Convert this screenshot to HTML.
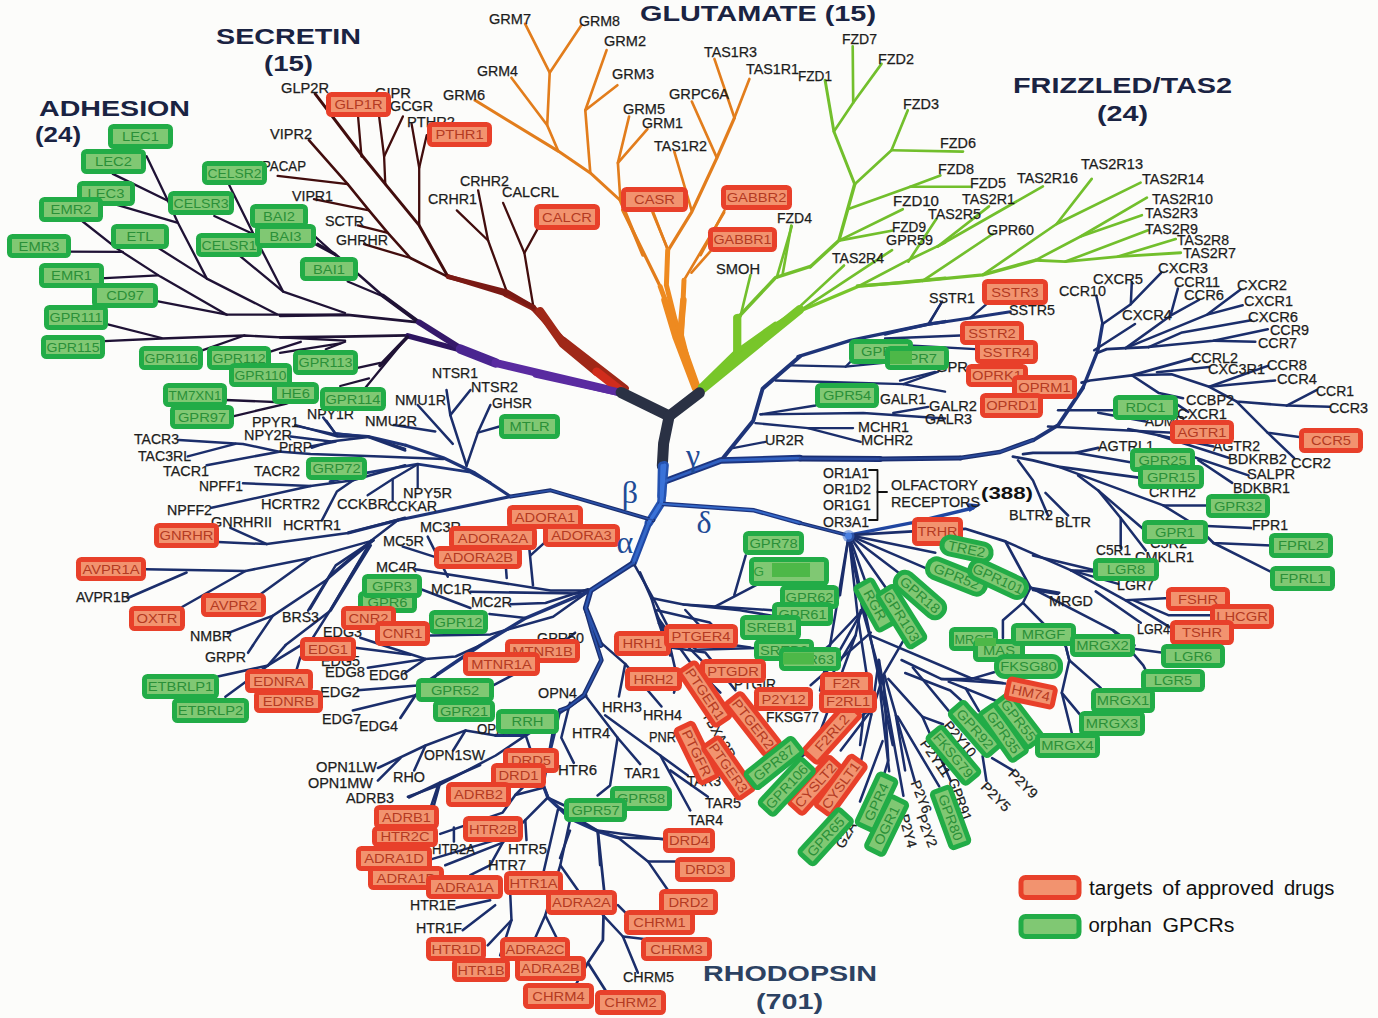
<!DOCTYPE html><html><head><meta charset="utf-8"><title>GPCR tree</title><style>html,body{margin:0;padding:0;background:#fcfcfa;}svg{display:block}text{font-family:"Liberation Sans",sans-serif;}</style></head><body>
<svg width="1378" height="1018" viewBox="0 0 1378 1018">
<rect width="1378" height="1018" fill="#fcfcfa"/>
<g fill="none" stroke-linecap="round" stroke-linejoin="round">
<polyline points="146.6,156.3 167.9,200.7 177.9,222.8 206.8,278.6 276.9,314.2" stroke="#1f1235" stroke-width="2.3"/>
<polyline points="112.8,173.9 167.9,200.7" stroke="#1f1235" stroke-width="2.3"/>
<polyline points="117.8,205.2 177.9,222.8" stroke="#1f1235" stroke-width="2.3"/>
<polyline points="82.7,221.5 117.8,249.1 160.4,276.6 226.8,314.7 345.1,314.7" stroke="#1f1235" stroke-width="2.3"/>
<polyline points="65.2,251.6 122.8,251.8" stroke="#1f1235" stroke-width="2.3"/>
<polyline points="100.3,278.4 157.9,275.4" stroke="#1f1235" stroke-width="2.3"/>
<polyline points="154.1,245.3 206.8,278.6" stroke="#1f1235" stroke-width="2.3"/>
<polyline points="150.4,299.9 226.8,314.7" stroke="#1f1235" stroke-width="2.3"/>
<polyline points="229.3,185.2 253.1,233.3 283.2,291.7 345.1,313" stroke="#1f1235" stroke-width="2.3"/>
<polyline points="214.3,216 253.1,234" stroke="#1f1235" stroke-width="2.3"/>
<polyline points="233.1,250.3 283.2,291.7" stroke="#1f1235" stroke-width="2.3"/>
<polyline points="295.7,219 335.8,255.3" stroke="#1f1235" stroke-width="2.3"/>
<polyline points="300.8,236.5 335.8,255.3" stroke="#1f1235" stroke-width="2.3"/>
<polyline points="107.8,324.3 161.7,338" stroke="#1f1235" stroke-width="2.3"/>
<polyline points="104,341.1 161.7,338.5 244.4,335.5 345.1,340.6" stroke="#1f1235" stroke-width="2.3"/>
<polyline points="198,351.8 244.4,335.5" stroke="#1f1235" stroke-width="2.3"/>
<polyline points="265.7,353.1 300.8,341.8" stroke="#1f1235" stroke-width="2.3"/>
<polyline points="325.8,349.3 345.1,341.8" stroke="#1f1235" stroke-width="2.3"/>
<polyline points="317.6,243.9 335.1,253.9 382.8,295.7 419.1,322.3" stroke="#1f1235" stroke-width="2.53"/>
<polyline points="347.7,281.5 382.8,296.2" stroke="#1f1235" stroke-width="2.3"/>
<polyline points="280,315.8 347.7,314.8 419.1,322.3" stroke="#1f1235" stroke-width="2.76"/>
<polyline points="280,337.3 342.7,336.6 407.8,335.3" stroke="#1f1235" stroke-width="2.76"/>
<polyline points="405.3,339.1 365.2,388" stroke="#1f1235" stroke-width="2.3"/>
<polyline points="340.2,343.4 280,352.9" stroke="#1f1235" stroke-width="2.3"/>
<polyline points="380.3,362.9 355.2,368.4" stroke="#1f1235" stroke-width="2.3"/>
<polyline points="369,378.4 340.2,386" stroke="#1f1235" stroke-width="2.3"/>
<polyline points="312.6,386.7 295,394.2" stroke="#1f1235" stroke-width="2.3"/>
<polyline points="407.8,335.8 460.5,349.9" stroke="#2e1560" stroke-width="5.5"/>
<polyline points="382.8,295.7 419.1,322.3" stroke="#1f1235" stroke-width="4"/>
<polyline points="407.4,337 380,365.5" stroke="#1f1235" stroke-width="3.6"/>
<polyline points="419.1,322.3 460.5,348.4" stroke="#35186a" stroke-width="6"/>
<polyline points="460.5,349.1 495.5,362.9" stroke="#4a2590" stroke-width="9.5"/>
<polyline points="495.5,362.9 625.1,393.5" stroke="#5a2ba0" stroke-width="8"/>
<polyline points="625.1,388.5 563.2,340.4" stroke="#a02818" stroke-width="7.5"/>
<polyline points="563.2,340.4 533.1,307.8" stroke="#962418" stroke-width="6"/>
<polyline points="533.1,307.8 505.6,294" stroke="#8a1f16" stroke-width="6"/>
<polyline points="505.6,294 447.9,276.4" stroke="#7a1a14" stroke-width="4.5"/>
<polyline points="326.4,420.6 335.1,433.1 367.7,436.8 405.3,450.6" stroke="#1b2e6b" stroke-width="2.3"/>
<polyline points="295,425.6 335.1,434.3" stroke="#1b2e6b" stroke-width="2.3"/>
<polyline points="311.7,447.8 330.5,441.5" stroke="#1b2e6b" stroke-width="2.3"/>
<polyline points="315.2,93.8 362.8,156.5 385.3,184.1 419.2,225.4 448,276.8" stroke="#420d0d" stroke-width="2.9899999999999998"/>
<polyline points="308.9,140.2 347.7,184.1 369,210.4 387.8,232.9 410.4,258 448,276.8" stroke="#420d0d" stroke-width="2.53"/>
<polyline points="364,244.2 410.4,258" stroke="#420d0d" stroke-width="2.3"/>
<polyline points="277.6,175.8 347.7,184.1" stroke="#420d0d" stroke-width="2.3"/>
<polyline points="313.9,199.1 369,210.4" stroke="#420d0d" stroke-width="2.3"/>
<polyline points="357.8,225.4 387.8,232.9" stroke="#420d0d" stroke-width="2.3"/>
<polyline points="357.3,107.6 361.5,156.5" stroke="#420d0d" stroke-width="2.3"/>
<polyline points="379.1,116.4 384.1,156.5 385.3,184.1" stroke="#420d0d" stroke-width="2.3"/>
<polyline points="402.9,116.4 384.1,156.5" stroke="#420d0d" stroke-width="2.3"/>
<polyline points="411.6,123.9 419.2,167.8 419.2,225.4" stroke="#420d0d" stroke-width="2.3"/>
<polyline points="426.7,135.2 419.2,167.8" stroke="#420d0d" stroke-width="2.3"/>
<polyline points="456.8,210.4 488.1,240.5" stroke="#420d0d" stroke-width="2.3"/>
<polyline points="478.1,190.3 488.1,240.5 506.9,291.8" stroke="#420d0d" stroke-width="2.3"/>
<polyline points="503.1,202.9 524.4,253 533.2,305.6" stroke="#420d0d" stroke-width="2.3"/>
<polyline points="538.2,227.9 524.4,253" stroke="#420d0d" stroke-width="2.3"/>
<polyline points="448,276.8 506.9,291.8 533.2,306.9" stroke="#7a1a14" stroke-width="4.5"/>
<polyline points="525.1,23.8 549.7,72.7 547.2,125.3" stroke="#e27d1c" stroke-width="2.6449999999999996"/>
<polyline points="581.5,25.1 549.7,72.7" stroke="#e27d1c" stroke-width="2.6449999999999996"/>
<polyline points="511.4,77.7 547.2,125.3 558.2,151.1" stroke="#e27d1c" stroke-width="2.6449999999999996"/>
<polyline points="475,100.3 558.2,151.1 590.3,172.9 620.4,200.5" stroke="#e27d1c" stroke-width="2.9899999999999998"/>
<polyline points="606.6,50.1 585.3,110.3 590.3,172.9" stroke="#e27d1c" stroke-width="2.6449999999999996"/>
<polyline points="617.4,85.2 585.3,110.3" stroke="#e27d1c" stroke-width="2.6449999999999996"/>
<polyline points="629.1,116.5 617.9,162.9 620.4,200.5" stroke="#e27d1c" stroke-width="2.6449999999999996"/>
<polyline points="647.4,129.1 617.9,162.9" stroke="#e27d1c" stroke-width="2.6449999999999996"/>
<polyline points="674.3,151.6 691.8,211" stroke="#e27d1c" stroke-width="2.6449999999999996"/>
<polyline points="714.4,58.9 734.4,117.8" stroke="#e27d1c" stroke-width="2.6449999999999996"/>
<polyline points="749.4,78.9 734.4,117.8" stroke="#e27d1c" stroke-width="2.6449999999999996"/>
<polyline points="734.4,117.8 716.9,157.9 691.8,211.8 668,250.6" stroke="#e27d1c" stroke-width="3.2199999999999998"/>
<polyline points="691.8,101.5 716.9,157.9" stroke="#e27d1c" stroke-width="2.6449999999999996"/>
<polyline points="653,211.8 668,250.6" stroke="#e27d1c" stroke-width="2.6449999999999996"/>
<polyline points="620.4,200.5 642.9,255.1" stroke="#e27d1c" stroke-width="3.4"/>
<polyline points="724.4,210.5 700.6,255.1" stroke="#e27d1c" stroke-width="2.6449999999999996"/>
<polyline points="622.6,210 660.2,286.5" stroke="#e27d1c" stroke-width="3.2"/>
<polyline points="660.2,286.5 682.7,347.9" stroke="#ee8a20" stroke-width="5"/>
<polyline points="652.6,212.5 667.7,248.9" stroke="#e27d1c" stroke-width="2.6449999999999996"/>
<polyline points="667.7,250.1 666.4,285.2 675.2,320.3 684,350.4" stroke="#ee8a20" stroke-width="5"/>
<polyline points="724.1,212.5 684,280.2" stroke="#e27d1c" stroke-width="2.6449999999999996"/>
<polyline points="710.3,251.4 691.5,272.7" stroke="#e27d1c" stroke-width="2.6449999999999996"/>
<polyline points="684,280.2 681.5,335.3 688.2,361.7" stroke="#ee8a20" stroke-width="5"/>
<polyline points="684,350.4 697.2,387.5" stroke="#ee8a20" stroke-width="7"/>
<polyline points="701.5,388.5 740.4,350.4" stroke="#78c62a" stroke-width="9"/>
<polyline points="740.4,350.4 775.4,325.3" stroke="#78c62a" stroke-width="7"/>
<polyline points="775.4,325.3 793,314" stroke="#78c62a" stroke-width="4.8"/>
<polyline points="793,314 858.1,286.5 945.1,278.2" stroke="#78c62a" stroke-width="3.2"/>
<polyline points="736.6,317.8 736.6,353.4" stroke="#78c62a" stroke-width="7"/>
<polyline points="750.4,275.2 740.4,316.5" stroke="#72bf2c" stroke-width="2.6449999999999996"/>
<polyline points="737.8,317.8 775.4,277.7 810.5,266.4" stroke="#72bf2c" stroke-width="3.4499999999999997"/>
<polyline points="791.7,226.3 776.7,277.7" stroke="#72bf2c" stroke-width="2.6449999999999996"/>
<polyline points="892,250.1 800.5,310.3" stroke="#72bf2c" stroke-width="2.6449999999999996"/>
<polyline points="844,265.5 793.2,312.6" stroke="#72bf2c" stroke-width="2.6449999999999996"/>
<polyline points="858.1,286.5 908.3,260.2 945.1,242.6" stroke="#72bf2c" stroke-width="2.6449999999999996"/>
<polyline points="798,356.6 850.6,340.4 928.3,324.1 945.1,321.6" stroke="#1e3478" stroke-width="3.4499999999999997"/>
<polyline points="942.1,301.5 928.3,324.1" stroke="#1b2e6b" stroke-width="2.3"/>
<polyline points="790.5,365.4 845.6,366.7 883.2,362.9" stroke="#1b2e6b" stroke-width="2.3"/>
<polyline points="845.6,366.7 855.6,356.6" stroke="#1b2e6b" stroke-width="2.3"/>
<polyline points="775.4,380.5 903.3,384.2 945.1,391.7" stroke="#1b2e6b" stroke-width="2.3"/>
<polyline points="903.3,384.2 938.3,371.7" stroke="#1b2e6b" stroke-width="2.3"/>
<polyline points="760.4,414.3 815.5,405.5 823.1,400.5" stroke="#1b2e6b" stroke-width="2.3"/>
<polyline points="760.4,414.3 863.2,413 945.1,418.5" stroke="#1b2e6b" stroke-width="2.3"/>
<polyline points="893.2,413 928.3,406.8" stroke="#1b2e6b" stroke-width="2.3"/>
<polyline points="755.4,423.1 808,428.1 853.1,428.1" stroke="#1b2e6b" stroke-width="2.3"/>
<polyline points="808,428.1 860.7,441.9" stroke="#1b2e6b" stroke-width="2.3"/>
<polyline points="732.8,448.1 765.4,441.9" stroke="#1b2e6b" stroke-width="2.3"/>
<polyline points="810.1,266.9 838.9,240.6 847.7,209.2 854.7,184.2" stroke="#72bf2c" stroke-width="3.4499999999999997"/>
<polyline points="854.7,184.2 833.9,131.5 825.1,80.2" stroke="#72bf2c" stroke-width="2.9899999999999998"/>
<polyline points="852.7,46.3 853.2,102.7 833.9,131.5" stroke="#72bf2c" stroke-width="2.6449999999999996"/>
<polyline points="881.5,63.9 853.2,102.7" stroke="#72bf2c" stroke-width="2.6449999999999996"/>
<polyline points="854.7,184.2 891.5,150.3 907.8,110.2" stroke="#72bf2c" stroke-width="2.6449999999999996"/>
<polyline points="891.5,150.3 963,151.6" stroke="#72bf2c" stroke-width="2.6449999999999996"/>
<polyline points="847.7,209.2 910.3,186.7 940.4,175.4" stroke="#72bf2c" stroke-width="2.6449999999999996"/>
<polyline points="910.3,186.7 970.5,186.7" stroke="#72bf2c" stroke-width="2.6449999999999996"/>
<polyline points="838.9,240.6 902.8,209.2" stroke="#72bf2c" stroke-width="2.6449999999999996"/>
<polyline points="838.9,240.6 892.8,230.5" stroke="#72bf2c" stroke-width="2.6449999999999996"/>
<polyline points="791.3,225.5 782.5,275.1" stroke="#72bf2c" stroke-width="2.6449999999999996"/>
<polyline points="857.4,285.9 900,282.9 982.7,274.9 1035.3,260.3" stroke="#72bf2c" stroke-width="3.4499999999999997"/>
<polyline points="1035.3,260.3 1065.4,261.6 1118,256.6 1180.7,252.8" stroke="#72bf2c" stroke-width="2.875"/>
<polyline points="982.7,274.9 1056.6,224 1091.7,178.9" stroke="#72bf2c" stroke-width="2.6449999999999996"/>
<polyline points="1056.6,224 1140.6,182.6" stroke="#72bf2c" stroke-width="2.6449999999999996"/>
<polyline points="1035.3,260.3 1080.5,236.5 1146.9,197.7" stroke="#72bf2c" stroke-width="2.6449999999999996"/>
<polyline points="1080.5,236.5 1141.9,215.2" stroke="#72bf2c" stroke-width="2.6449999999999996"/>
<polyline points="1065.4,261.6 1148.1,230.3" stroke="#72bf2c" stroke-width="2.6449999999999996"/>
<polyline points="1118,256.6 1175.7,239" stroke="#72bf2c" stroke-width="2.6449999999999996"/>
<polyline points="992.7,234 922.6,280.9" stroke="#72bf2c" stroke-width="2.6449999999999996"/>
<polyline points="1042.9,186.4 937.6,246.5" stroke="#72bf2c" stroke-width="2.6449999999999996"/>
<polyline points="989,206.4 937.6,246.5" stroke="#72bf2c" stroke-width="2.6449999999999996"/>
<polyline points="936.3,219 908.3,261.7" stroke="#72bf2c" stroke-width="2.6449999999999996"/>
<polyline points="941.4,302.9 928.8,324.2" stroke="#1b2e6b" stroke-width="2.3"/>
<polyline points="885,334.3 900,330.5 928.8,324.2 970.2,318 1010.3,311.7" stroke="#1e3478" stroke-width="2.9899999999999998"/>
<polyline points="986.5,304.2 970.2,318" stroke="#1b2e6b" stroke-width="2.3"/>
<polyline points="885,338.5 960.2,335.5" stroke="#1b2e6b" stroke-width="2.3"/>
<polyline points="900,345 980.2,349.3" stroke="#1b2e6b" stroke-width="2.3"/>
<polyline points="900,380.6 935.1,371.9" stroke="#1b2e6b" stroke-width="2.3"/>
<polyline points="540,311.3 562.6,343.4 596.6,371.7" stroke="#a02818" stroke-width="8.5"/>
<polyline points="596.6,371.7 620.2,390.2" stroke="#d02c1c" stroke-width="8.5"/>
<polyline points="536.2,374 620.2,392.5" stroke="#5a2ba0" stroke-width="7.5"/>
<polyline points="664.5,300 675.8,337.7 695.1,388.3" stroke="#ee8a20" stroke-width="6.5"/>
<polyline points="683.4,300 680,337.7" stroke="#ee8a20" stroke-width="6.5"/>
<polyline points="799.8,309.4 702.6,388.7" stroke="#78c62a" stroke-width="9"/>
<polyline points="738.1,317 738.1,349.4" stroke="#78c62a" stroke-width="6.5"/>
<polyline points="621.1,392.5 669.2,416" stroke="#2a3144" stroke-width="11"/>
<polyline points="699.4,392.8 669.2,416" stroke="#2a3144" stroke-width="11"/>
<polyline points="669.2,416 663.6,443.4 662.3,465.7" stroke="#2a3144" stroke-width="11"/>
<polyline points="662.3,466 661.7,496.2" stroke="#2452b0" stroke-width="9"/>
<polyline points="664.5,481.5 721.1,460.4 799.8,458.1" stroke="#1c3580" stroke-width="6.5"/>
<polyline points="721.1,460.4 753.2,420.8 762.6,388.7 799.8,356.6" stroke="#1e3478" stroke-width="4"/>
<polyline points="664.6,465.2 661.3,502.8 648.8,522.8" stroke="#2452b0" stroke-width="8.5"/>
<polyline points="648.8,522.8 633.3,562.9" stroke="#2049a5" stroke-width="7"/>
<polyline points="633.3,562.9 590.7,590.5 585.6,608 600.7,645.1" stroke="#1b3278" stroke-width="5.5"/>
<polyline points="653.3,520.3 550.6,490.3 510.5,496.5" stroke="#1b2f6e" stroke-width="4"/>
<polyline points="510.5,496.5 397.7,520.3" stroke="#1e3478" stroke-width="3.2"/>
<polyline points="397.7,520.3 348.2,532.9" stroke="#1e3478" stroke-width="3.2199999999999998"/>
<polyline points="510.5,496.5 475,473 443.3,457.8 405.7,445.3" stroke="#1e3478" stroke-width="3.2"/>
<polyline points="405.7,445.3 368,436.5 335.5,434" stroke="#1e3478" stroke-width="2.9899999999999998"/>
<polyline points="490.4,482.7 470.4,472.2 417.7,464.2 367.6,472.7 330,481.5" stroke="#1e3478" stroke-width="2.76"/>
<polyline points="417.7,464.2 417.7,487.7" stroke="#1b2e6b" stroke-width="2.3"/>
<polyline points="417.7,464.2 392.7,479 367.6,495.3" stroke="#1b2e6b" stroke-width="2.3"/>
<polyline points="392.7,479 392.7,500.3" stroke="#1b2e6b" stroke-width="2.3"/>
<polyline points="466.6,465.7 477.9,432.6 490.4,405" stroke="#1b2e6b" stroke-width="2.53"/>
<polyline points="477.9,432.6 500.4,426.3" stroke="#1b2e6b" stroke-width="2.53"/>
<polyline points="466.6,465.7 450.3,415.1 446.5,390" stroke="#1b2e6b" stroke-width="2.53"/>
<polyline points="450.3,415.1 470.4,390" stroke="#1b2e6b" stroke-width="2.53"/>
<polyline points="417.7,405 452.8,443.9" stroke="#1b2e6b" stroke-width="2.53"/>
<polyline points="393.9,425.1 435.3,431.4" stroke="#1b2e6b" stroke-width="2.53"/>
<polyline points="397.7,520.3 371.4,540.4 330,575.5" stroke="#1b2e6b" stroke-width="2.53"/>
<polyline points="371.4,540.4 330,610.6" stroke="#1b2e6b" stroke-width="2.53"/>
<polyline points="633.3,562.9 655.8,603 675.1,640.6" stroke="#1b2e6b" stroke-width="2.53"/>
<polyline points="590.7,590.5 550.6,590.5 415.2,569.2" stroke="#1b2e6b" stroke-width="2.53"/>
<polyline points="580.6,593.5 470.4,591.8" stroke="#1b2e6b" stroke-width="2.53"/>
<polyline points="588.1,589.2 545.5,603 510.5,604.3" stroke="#1b2e6b" stroke-width="2.53"/>
<polyline points="588.1,591.8 553.1,616.8 490.4,634.4 430.3,635.6" stroke="#1b2e6b" stroke-width="2.53"/>
<polyline points="528,535.4 533,585.5" stroke="#1b2e6b" stroke-width="2.53"/>
<polyline points="505.4,560.4 506.7,578" stroke="#1b2e6b" stroke-width="2.53"/>
<polyline points="544.3,542.9 530.5,555.4" stroke="#1b2e6b" stroke-width="2.53"/>
<polyline points="427.7,536.6 447.8,576.7" stroke="#1b2e6b" stroke-width="2.53"/>
<polyline points="402.7,546.6 437.8,557.9" stroke="#1b2e6b" stroke-width="2.53"/>
<polyline points="417.7,588 470.4,608" stroke="#1b2e6b" stroke-width="2.53"/>
<polyline points="179,440.1 243,443.9 278,451.4 310.6,453.9 380.6,456.6 443.3,459" stroke="#1b2e6b" stroke-width="2.53"/>
<polyline points="187.8,456.4 235.4,443.9" stroke="#1b2e6b" stroke-width="2.53"/>
<polyline points="206.6,465.2 280.6,451.4" stroke="#1b2e6b" stroke-width="2.53"/>
<polyline points="295.6,425.1 336.9,436.4 368.3,436.4 405.1,448.9" stroke="#1b2e6b" stroke-width="2.53"/>
<polyline points="290.6,436.4 330.7,441.4 368.3,437.1" stroke="#1b2e6b" stroke-width="2.53"/>
<polyline points="323.2,417.6 336.9,435.6" stroke="#1b2e6b" stroke-width="2.53"/>
<polyline points="310.6,446.4 335.7,441.4" stroke="#1b2e6b" stroke-width="2.53"/>
<polyline points="211.6,507.8 310.6,486 353.2,480.2 405.1,465.2" stroke="#1b2e6b" stroke-width="2.53"/>
<polyline points="243,483.2 310.6,486" stroke="#1b2e6b" stroke-width="2.53"/>
<polyline points="321.9,520.3 336.9,491.5 353.2,480.2" stroke="#1b2e6b" stroke-width="2.53"/>
<polyline points="217.9,542.1 266.8,544.1 348.2,532.9 405.1,517.8" stroke="#1b2e6b" stroke-width="2.53"/>
<polyline points="230.4,527.8 266.8,544.1" stroke="#1b2e6b" stroke-width="2.53"/>
<polyline points="145.2,569.2 245.5,571 310.6,557.9 373.3,540.4" stroke="#1b2e6b" stroke-width="2.53"/>
<polyline points="127.7,598 186.6,572.5" stroke="#1b2e6b" stroke-width="2.53"/>
<polyline points="180.3,608 245.5,571" stroke="#1b2e6b" stroke-width="2.53"/>
<polyline points="260.5,594.3 310.6,557.9" stroke="#1b2e6b" stroke-width="2.53"/>
<polyline points="308.1,610.6 335.7,565.4 373.3,540.4" stroke="#1b2e6b" stroke-width="2.53"/>
<polyline points="227.9,633.1 273,615.6 325.7,580.5 373.3,540.4" stroke="#1b2e6b" stroke-width="2.53"/>
<polyline points="253,645.1 273,615.6" stroke="#1b2e6b" stroke-width="2.53"/>
<polyline points="285.6,645.1 330.7,610.6 370.8,545.4" stroke="#1b2e6b" stroke-width="2.53"/>
<polyline points="225.4,400 285.6,402.5" stroke="#1f1235" stroke-width="2.3"/>
<polyline points="232.9,416.3 285.6,403.8 310.6,395" stroke="#1f1235" stroke-width="2.3"/>
<polyline points="590.7,590.6 525.7,618.1 480.6,645.2 438,674" stroke="#1e3478" stroke-width="3.4499999999999997"/>
<polyline points="438,674 415.5,695.3 400.4,717.9" stroke="#1b2e6b" stroke-width="2.76"/>
<polyline points="525.7,618.1 489.4,613.9" stroke="#1b2e6b" stroke-width="2.53"/>
<polyline points="480.6,645.2 455.6,656.5 425.5,659 390.4,647.7 360.3,637.7" stroke="#1b2e6b" stroke-width="2.53"/>
<polyline points="425.5,659 367.8,667.8" stroke="#1b2e6b" stroke-width="2.53"/>
<polyline points="425.5,659 405.4,672.8" stroke="#1b2e6b" stroke-width="2.53"/>
<polyline points="410.5,654.7 355.3,647.7" stroke="#1b2e6b" stroke-width="2.53"/>
<polyline points="438,674 420.5,685.3 357.8,690.3" stroke="#1b2e6b" stroke-width="2.53"/>
<polyline points="415.5,695.3 352.8,710.4" stroke="#1b2e6b" stroke-width="2.53"/>
<polyline points="360.3,560 330.3,610.1 300.2,657.7 296.4,670.3" stroke="#1b2e6b" stroke-width="2.53"/>
<polyline points="310.2,608.9 330.3,575" stroke="#1b2e6b" stroke-width="2.53"/>
<polyline points="217.9,676.6 268,665.4 300.6,645.3" stroke="#1b2e6b" stroke-width="2.53"/>
<polyline points="268,665.4 225.4,696.7" stroke="#1b2e6b" stroke-width="2.53"/>
<polyline points="285.6,645.1 268,665.4" stroke="#1b2e6b" stroke-width="2.53"/>
<polyline points="253,645.3 248,652.8" stroke="#1b2e6b" stroke-width="2.53"/>
<polyline points="585.9,695.3 555.8,715.4 525.7,735.4 495.7,735.4" stroke="#1e3478" stroke-width="3.2199999999999998"/>
<polyline points="495.7,735.4 465.6,730.4 425.5,745.5 377.9,768" stroke="#1b2e6b" stroke-width="2.53"/>
<polyline points="425.5,745.5 414.2,770.5" stroke="#1b2e6b" stroke-width="2.53"/>
<polyline points="465.6,730.4 453.1,750.5" stroke="#1b2e6b" stroke-width="2.53"/>
<polyline points="400.4,758 377.9,780.6" stroke="#1b2e6b" stroke-width="2.53"/>
<polyline points="525.7,735.4 495.7,755.5 438,785.6 407.9,796.8" stroke="#1b2e6b" stroke-width="2.53"/>
<polyline points="438,785.6 428,815.1" stroke="#1b2e6b" stroke-width="2.53"/>
<polyline points="525.7,735.4 530.8,750.5" stroke="#1b2e6b" stroke-width="2.53"/>
<polyline points="555.8,715.4 543.3,785.6 548.3,798.1 575.1,810.6" stroke="#1b2e6b" stroke-width="2.76"/>
<polyline points="575.1,632.7 540.8,660.3 493.2,685.3" stroke="#1b2e6b" stroke-width="2.53"/>
<polyline points="540.3,775 544.1,787.5 547.8,797.5 570.3,818.8 597.9,831.3 617.9,837.6" stroke="#1e3478" stroke-width="3.4499999999999997"/>
<polyline points="617.9,837.6 665.5,838.9" stroke="#1b2e6b" stroke-width="2.53"/>
<polyline points="597.9,831.3 604.1,890.2 602.9,940.3 587.9,962.8 605.4,990.3" stroke="#1b2e6b" stroke-width="2.76"/>
<polyline points="587.9,962.8 575.4,985.3" stroke="#1b2e6b" stroke-width="2.53"/>
<polyline points="602.9,915.2 622.9,936.5 637.9,972.8" stroke="#1b2e6b" stroke-width="2.53"/>
<polyline points="622.9,936.5 644.2,939" stroke="#1b2e6b" stroke-width="2.53"/>
<polyline points="617.9,837.6 648,861.4 678,861.4" stroke="#1b2e6b" stroke-width="2.53"/>
<polyline points="648,861.4 668,890.2" stroke="#1b2e6b" stroke-width="2.53"/>
<polyline points="617.9,905.2 630.4,917.7" stroke="#1b2e6b" stroke-width="2.53"/>
<polyline points="570.3,818.8 560.3,865.2 577.9,890.2" stroke="#1b2e6b" stroke-width="2.53"/>
<polyline points="560.3,865.2 545.3,915.2 535.3,937.8" stroke="#1b2e6b" stroke-width="2.53"/>
<polyline points="545.3,915.2 557.8,940.3" stroke="#1b2e6b" stroke-width="2.53"/>
<polyline points="557.8,810.1 542.8,875.2" stroke="#1b2e6b" stroke-width="2.53"/>
<polyline points="547.8,797.5 525.3,820.1 502.7,842.6 490.2,865.2 470.2,875.2" stroke="#1b2e6b" stroke-width="2.53"/>
<polyline points="502.7,842.6 445.2,865.2" stroke="#1b2e6b" stroke-width="2.53"/>
<polyline points="495.2,840.1 432.6,858.9" stroke="#1b2e6b" stroke-width="2.53"/>
<polyline points="525.3,820.1 526.5,840.1" stroke="#1b2e6b" stroke-width="2.53"/>
<polyline points="510.3,895.2 511.5,920.2 487.7,945.3" stroke="#1b2e6b" stroke-width="2.53"/>
<polyline points="511.5,920.2 500.2,955.3" stroke="#1b2e6b" stroke-width="2.53"/>
<polyline points="490.2,900.2 456.4,907.7" stroke="#1b2e6b" stroke-width="2.53"/>
<polyline points="495.2,905.2 462.7,930.2" stroke="#1b2e6b" stroke-width="2.53"/>
<polyline points="544.1,787.5 515.3,795 502.7,812.6 440.2,833.9" stroke="#1b2e6b" stroke-width="2.53"/>
<polyline points="515.3,795 535.3,775" stroke="#1b2e6b" stroke-width="2.53"/>
<polyline points="440.2,782.5 432.6,810.1" stroke="#1b2e6b" stroke-width="2.53"/>
<polyline points="408.9,797.5 440.2,782.5 480.2,765" stroke="#1b2e6b" stroke-width="2.53"/>
<polyline points="453.9,827.6 453.9,841.4" stroke="#1b2e6b" stroke-width="2.53"/>
<polyline points="585.6,608 592.6,632.6 601.4,660.1 583.8,695.2 567.5,707.7 560,710.3" stroke="#1b2f6e" stroke-width="4.6"/>
<polyline points="560,710 548,760 540.3,775" stroke="#1e3478" stroke-width="3.2"/>
<polyline points="595.1,637.6 625.2,663.9 661.5,706.5" stroke="#1b2e6b" stroke-width="2.53"/>
<polyline points="625.2,663.9 618.9,696.5" stroke="#1b2e6b" stroke-width="2.53"/>
<polyline points="585.1,695.2 617.6,737.8 640.2,764.1" stroke="#1b2e6b" stroke-width="2.53"/>
<polyline points="570,702.7 561.3,737.8 573.8,762.9" stroke="#1b2e6b" stroke-width="2.53"/>
<polyline points="605.1,715.3 660.3,755.4 690.3,810.5" stroke="#1b2e6b" stroke-width="2.53"/>
<polyline points="660.3,755.4 687.8,775.4" stroke="#1b2e6b" stroke-width="2.53"/>
<polyline points="670.3,770.4 707.9,796.7" stroke="#1b2e6b" stroke-width="2.53"/>
<polyline points="617.6,737.8 610.1,785.4 597.6,795.5" stroke="#1b2e6b" stroke-width="2.53"/>
<polyline points="655.2,610 670.3,647.6 677.8,680.2 674,692.7" stroke="#1b2e6b" stroke-width="2.53"/>
<polyline points="657.7,617.5 690.3,662.6 720.4,692.7" stroke="#1b2e6b" stroke-width="2.53"/>
<polyline points="670.3,647.6 705.4,652.6 735.4,690.2" stroke="#1b2e6b" stroke-width="2.53"/>
<polyline points="685.3,610 715.4,642.6 750.5,647.6" stroke="#1b2e6b" stroke-width="2.53"/>
<polyline points="860.8,610 855.7,635.1 833.2,672.7" stroke="#1b2e6b" stroke-width="2.53"/>
<polyline points="870.8,632.6 810.6,685.2" stroke="#1b2e6b" stroke-width="2.53"/>
<polyline points="905.1,637.6 883.3,675.2 873.3,707.7 840.7,750.4" stroke="#1b2e6b" stroke-width="2.53"/>
<polyline points="883.3,675.2 888.3,760.4 880.8,785.4" stroke="#1b2e6b" stroke-width="2.53"/>
<polyline points="895.8,715.3 905.1,770.4" stroke="#1b2e6b" stroke-width="2.53"/>
<polyline points="873.3,707.7 810.6,750.4 795.6,760.4" stroke="#1b2e6b" stroke-width="2.53"/>
<polyline points="855.7,635.1 820.7,730.3" stroke="#1b2e6b" stroke-width="2.53"/>
<polyline points="560,808 597.6,830.6 662.8,839.3" stroke="#1b2e6b" stroke-width="2.53"/>
<polyline points="570,830.6 560,858.1" stroke="#1b2e6b" stroke-width="2.53"/>
<polyline points="597.6,830.6 600.1,865.1" stroke="#1b2e6b" stroke-width="2.53"/>
<polyline points="660.4,503.7 754,510.3 800,523" stroke="#1d3580" stroke-width="4.5"/>
<polyline points="800,523 848.8,535.5" stroke="#1b2f6e" stroke-width="3.8"/>
<polyline points="848.8,535.1 912.7,522.6 972.9,508" stroke="#2046a0" stroke-width="3.4499999999999997"/>
<polyline points="848.8,535.1 830,645.4" stroke="#1b2e6b" stroke-width="2.53"/>
<polyline points="848.8,535.1 870.1,635.4" stroke="#1b2e6b" stroke-width="2.53"/>
<polyline points="848.8,535.1 867.6,587.7" stroke="#1b2e6b" stroke-width="2.53"/>
<polyline points="848.8,535.1 887.6,590.3" stroke="#1b2e6b" stroke-width="2.53"/>
<polyline points="848.8,535.1 905.2,577.7" stroke="#1b2e6b" stroke-width="2.53"/>
<polyline points="848.8,535.1 930.3,570.2" stroke="#1b2e6b" stroke-width="2.53"/>
<polyline points="848.8,535.1 935.3,552.7" stroke="#1b2e6b" stroke-width="2.53"/>
<polyline points="848.8,535.1 840,595.3" stroke="#1b2e6b" stroke-width="2.53"/>
<polyline points="848.8,535.1 857.6,615.3" stroke="#1b2e6b" stroke-width="2.53"/>
<polyline points="870.1,635.4 892.7,745.1" stroke="#1b2e6b" stroke-width="2.53"/>
<polyline points="870.1,635.4 970.4,678 1002.9,683" stroke="#1b2e6b" stroke-width="2.53"/>
<polyline points="905.2,673 950.3,690.5 1005.4,740.6" stroke="#1b2e6b" stroke-width="2.53"/>
<polyline points="830,645.4 820,690.5" stroke="#1b2e6b" stroke-width="2.53"/>
<polyline points="857.6,615.3 867.6,680.5 860.1,745.1" stroke="#1b2e6b" stroke-width="2.53"/>
<polyline points="848.8,535.1 912.7,531.4 965.3,528.8 1005.4,541.4 1030.5,587.7" stroke="#1b2e6b" stroke-width="2.76"/>
<polyline points="1030.5,587.7 1113.2,630.4 1143.3,665.4 1150.8,680.5" stroke="#1b2e6b" stroke-width="2.53"/>
<polyline points="1005.4,541.4 1070.6,570.2 1094.4,571.5" stroke="#1b2e6b" stroke-width="2.53"/>
<polyline points="1070.6,570.2 1125.7,600.3 1175.1,597.8" stroke="#1b2e6b" stroke-width="2.53"/>
<polyline points="1125.7,600.3 1175.1,630.4" stroke="#1b2e6b" stroke-width="2.53"/>
<polyline points="1030.5,587.7 1059.3,592.8" stroke="#1b2e6b" stroke-width="2.53"/>
<polyline points="1030.5,587.7 1023,602.8 1002.9,620.3 1002.9,637.9" stroke="#1b2e6b" stroke-width="2.53"/>
<polyline points="1023,602.8 1065.6,646 1069.3,660.3" stroke="#1b2e6b" stroke-width="2.53"/>
<polyline points="1113.2,630.4 1134.5,645.4" stroke="#1b2e6b" stroke-width="2.53"/>
<polyline points="869,470 877.5,470 877.5,520 869,520" stroke="#111" stroke-width="1.8399999999999999"/>
<polyline points="877.5,492 887,492" stroke="#111" stroke-width="1.8399999999999999"/>
<polyline points="800,458.5 880,459" stroke="#1a2e72" stroke-width="6"/>
<polyline points="880,459 960,458" stroke="#1a2e72" stroke-width="5.2"/>
<polyline points="960,458 1000,452 1033,440" stroke="#1b2f6e" stroke-width="4.5"/>
<polyline points="1033,440.3 1058.1,425.2 1083.1,387.6" stroke="#1e3478" stroke-width="3.8"/>
<polyline points="1058.1,410.2 1118.2,410.2" stroke="#1b2e6b" stroke-width="2.53"/>
<polyline points="1098.2,412.7 1145.8,421.5" stroke="#1b2e6b" stroke-width="2.53"/>
<polyline points="1048,426.5 1173.4,432.8" stroke="#1b2e6b" stroke-width="2.53"/>
<polyline points="1128.2,429 1213.5,446.5" stroke="#1b2e6b" stroke-width="2.53"/>
<polyline points="1158.3,435.3 1228.5,457.8" stroke="#1b2e6b" stroke-width="2.53"/>
<polyline points="1023,454.1 1033,452.8 1075.6,452.8 1098.2,447.8" stroke="#1b2e6b" stroke-width="2.76"/>
<polyline points="1075.6,452.8 1133.3,462.8" stroke="#1b2e6b" stroke-width="2.53"/>
<polyline points="1012.9,456.6 1033,460.3 1058.1,466.6 1140.8,477.9" stroke="#1b2e6b" stroke-width="2.76"/>
<polyline points="1188.4,455.3 1248.5,475.4" stroke="#1b2e6b" stroke-width="2.53"/>
<polyline points="1198.4,460.3 1232.2,482.9" stroke="#1b2e6b" stroke-width="2.53"/>
<polyline points="1058.1,466.6 1163.3,505.4 1208.4,505.4" stroke="#1b2e6b" stroke-width="2.53"/>
<polyline points="1163.3,505.4 1195.9,525.5 1251,528" stroke="#1b2e6b" stroke-width="2.53"/>
<polyline points="1195.9,525.5 1213.5,543 1271.1,545.5" stroke="#1b2e6b" stroke-width="2.53"/>
<polyline points="1213.5,543 1273.6,573.1" stroke="#1b2e6b" stroke-width="2.53"/>
<polyline points="1098.2,490.4 1120.7,518 1145.8,550.6" stroke="#1b2e6b" stroke-width="2.53"/>
<polyline points="1120.7,518 1120.7,548" stroke="#1b2e6b" stroke-width="2.53"/>
<polyline points="1078.1,475.4 1098.2,490.4 1150.8,535.5" stroke="#1b2e6b" stroke-width="2.53"/>
<polyline points="1018,460.3 1033,480.4 1048,515.5" stroke="#1b2e6b" stroke-width="2.53"/>
<polyline points="1045.5,492.9 1068.1,515.5" stroke="#1b2e6b" stroke-width="2.53"/>
<polyline points="1033,555.6 1095.7,570.6" stroke="#1b2e6b" stroke-width="2.53"/>
<polyline points="1083,387.6 1098,350 1102.5,324" stroke="#1e3478" stroke-width="3.4"/>
<polyline points="1102.6,324 1096.3,295.8" stroke="#1b2e6b" stroke-width="2.53"/>
<polyline points="1102.6,324 1130.8,304.2 1131.8,282.2" stroke="#1b2e6b" stroke-width="2.53"/>
<polyline points="1130.8,304.2 1161.1,272.8" stroke="#1b2e6b" stroke-width="2.53"/>
<polyline points="1094.2,350.2 1135,324" stroke="#1b2e6b" stroke-width="2.53"/>
<polyline points="1096.3,353.3 1106.7,349.1 1125.6,348.1 1148.6,347.1" stroke="#1b2e6b" stroke-width="2.76"/>
<polyline points="1125.6,348.1 1170.5,315.7 1177.9,288.5" stroke="#1b2e6b" stroke-width="2.53"/>
<polyline points="1170.5,315.7 1198.8,300" stroke="#1b2e6b" stroke-width="2.53"/>
<polyline points="1125.6,348.1 1207.2,314.6 1240.6,289.5" stroke="#1b2e6b" stroke-width="2.53"/>
<polyline points="1207.2,314.6 1242.7,305.2" stroke="#1b2e6b" stroke-width="2.53"/>
<polyline points="1148.6,347.1 1182.1,332.4 1251.1,320.3" stroke="#1b2e6b" stroke-width="2.53"/>
<polyline points="1148.6,347.1 1213.4,340.8 1267.8,329.3" stroke="#1b2e6b" stroke-width="2.53"/>
<polyline points="1213.4,340.8 1255.3,341.8" stroke="#1b2e6b" stroke-width="2.53"/>
<polyline points="1081.6,382.6 1090,380.5 1131.8,375.3 1191.5,358.6" stroke="#1b2e6b" stroke-width="2.76"/>
<polyline points="1156.9,372.2 1209.2,366.9" stroke="#1b2e6b" stroke-width="2.53"/>
<polyline points="1131.8,375.3 1159,393.1 1183.1,398.3" stroke="#1b2e6b" stroke-width="2.53"/>
<polyline points="1169.5,399.4 1188.3,411.9" stroke="#1b2e6b" stroke-width="2.53"/>
<polyline points="1131.8,375.3 1171.6,374.2 1209.2,386.8 1267.8,365.9" stroke="#1b2e6b" stroke-width="2.53"/>
<polyline points="1209.2,386.8 1275.1,380.5" stroke="#1b2e6b" stroke-width="2.53"/>
<polyline points="1209.2,386.8 1236.4,401.4 1286.7,405.6 1329.5,406.7" stroke="#1b2e6b" stroke-width="2.53"/>
<polyline points="1286.7,405.6 1317,389.9" stroke="#1b2e6b" stroke-width="2.53"/>
<polyline points="1236.4,401.4 1267.8,432.8 1299.2,437" stroke="#1b2e6b" stroke-width="2.53"/>
<polyline points="1267.8,432.8 1294,457.9" stroke="#1b2e6b" stroke-width="2.53"/>
<polyline points="1070.6,570.1 1118.2,583.9" stroke="#1b2e6b" stroke-width="2.53"/>
<polyline points="1133.3,600.2 1168.3,615.2 1213.5,615.2" stroke="#1b2e6b" stroke-width="2.53"/>
<polyline points="1095.7,591.4 1140.8,622.7" stroke="#1b2e6b" stroke-width="2.53"/>
<polyline points="1125.7,647.8 1163.3,652.8" stroke="#1b2e6b" stroke-width="2.53"/>
<polyline points="1065.6,645.3 1069.3,660.3 1100.7,687.9" stroke="#1b2e6b" stroke-width="2.53"/>
<polyline points="1069.3,660.3 1061.8,692.9 1080.6,715.4" stroke="#1b2e6b" stroke-width="2.53"/>
<polyline points="1061.8,692.9 1071.8,733" stroke="#1b2e6b" stroke-width="2.53"/>
<polyline points="1033,590.1 1058.1,593.9" stroke="#1b2e6b" stroke-width="2.53"/>
<polyline points="878.9,660 880.8,697.7 889.2,771.3" stroke="#1b2e6b" stroke-width="2.53"/>
<polyline points="878.9,660 903.4,795.8" stroke="#1b2e6b" stroke-width="2.53"/>
<polyline points="884.5,675.1 914.7,780.8" stroke="#1b2e6b" stroke-width="2.53"/>
<polyline points="897.7,716.6 939.2,786.4" stroke="#1b2e6b" stroke-width="2.53"/>
<polyline points="888.3,678.9 922.3,716.6 950.6,780.8" stroke="#1b2e6b" stroke-width="2.53"/>
<polyline points="912.8,667.5 948.7,710.9" stroke="#1b2e6b" stroke-width="2.53"/>
<polyline points="922.3,716.6 943,724.2" stroke="#1b2e6b" stroke-width="2.53"/>
<polyline points="901.5,660 941.1,678.9 971.3,678.9 994,672.3" stroke="#1b2e6b" stroke-width="2.53"/>
<polyline points="941.1,678.9 1005.3,683.6" stroke="#1b2e6b" stroke-width="2.53"/>
<polyline points="948.7,681.7 997.7,701.5" stroke="#1b2e6b" stroke-width="2.53"/>
<polyline points="965.7,688.3 978.9,710.9" stroke="#1b2e6b" stroke-width="2.53"/>
<polyline points="982.6,756.2 986.4,780.8" stroke="#1b2e6b" stroke-width="2.53"/>
<polyline points="992.1,758.1 1012.8,770.4" stroke="#1b2e6b" stroke-width="2.53"/>
<polyline points="871.3,714.7 860,765.7" stroke="#1b2e6b" stroke-width="2.53"/>
<polyline points="882.6,741.1 860,801.5" stroke="#1b2e6b" stroke-width="2.53"/>
<polyline points="878.9,660 871.3,714.7" stroke="#1b2e6b" stroke-width="2.53"/>
<polyline points="640,572.5 651.3,597.9" stroke="#1b2e6b" stroke-width="2.76"/>
<polyline points="651.3,597.9 683.4,604.5 715.5,606.4 757,584.7" stroke="#1b2e6b" stroke-width="2.53"/>
<polyline points="715.5,606.4 772.1,610.2" stroke="#1b2e6b" stroke-width="2.53"/>
<polyline points="683.4,604.5 740,610.2 772.1,615.8" stroke="#1b2e6b" stroke-width="2.53"/>
<polyline points="734.3,595.1 745.7,555.5" stroke="#1b2e6b" stroke-width="2.53"/>
<polyline points="657,610.2 709.8,622.5 723,636.6" stroke="#1b2e6b" stroke-width="2.53"/>
<polyline points="651.3,597.9 658.9,623.4 670.2,655.5" stroke="#1b2e6b" stroke-width="2.53"/>
<polyline points="658.9,623.4 696.6,649.8 757,647.9" stroke="#1b2e6b" stroke-width="2.53"/>
<polyline points="677.7,636.6 702.3,661.1" stroke="#1b2e6b" stroke-width="2.53"/>
<polyline points="847.5,534.7 857,580 862.6,610.2 879.6,672.1" stroke="#1b2e6b" stroke-width="2.53"/>
<polyline points="862.6,610.2 828.7,646 809.8,661.1" stroke="#1b2e6b" stroke-width="2.53"/>
<polyline points="862.6,610.2 840,649.8" stroke="#1b2e6b" stroke-width="2.53"/>
<polyline points="662.3,466 661.7,496.2" stroke="#3a72d8" stroke-width="3.78"/>
<polyline points="664.5,481.5 721.1,460.4 799.8,458.1" stroke="#3060c0" stroke-width="2.73"/>
<polyline points="664.6,465.2 661.3,502.8 648.8,522.8" stroke="#3a72d8" stroke-width="3.57"/>
<polyline points="648.8,522.8 633.3,562.9" stroke="#3468c8" stroke-width="2.94"/>
<polyline points="633.3,562.9 590.7,590.5 585.6,608 600.7,645.1" stroke="#2c56b0" stroke-width="2.31"/>
<polyline points="653.3,520.3 550.6,490.3 510.5,496.5" stroke="#2a50a8" stroke-width="1.68"/>
<polyline points="585.6,608 592.6,632.6 601.4,660.1 583.8,695.2 567.5,707.7 560,710.3" stroke="#2a50a8" stroke-width="1.9319999999999997"/>
<polyline points="660.4,503.7 754,510.3 800,523" stroke="#3468c8" stroke-width="1.89"/>
<polyline points="800,523 848.8,535.5" stroke="#2a50a8" stroke-width="1.5959999999999999"/>
<polyline points="800,458.5 880,459" stroke="#2a4a9e" stroke-width="2.52"/>
<polyline points="880,459 960,458" stroke="#27448f" stroke-width="2.184"/>
<polyline points="960,458 1000,452 1033,440" stroke="#28489a" stroke-width="1.89"/>
</g>
<polygon points="981,504.5 966,503 969.5,512" fill="#2046a0"/><circle cx="848.5" cy="536" r="6" fill="#3a6ed0" opacity="0.55"/><circle cx="848.5" cy="536" r="3.5" fill="#4a80e0"/>
<g font-size="14" fill="#1c1c1c" stroke="#1c1c1c" stroke-width="0.25">
<text x="281" y="92.8" textLength="48" lengthAdjust="spacingAndGlyphs">GLP2R</text>
<text x="375" y="97.8" textLength="36" lengthAdjust="spacingAndGlyphs">GIPR</text>
<text x="390" y="110.8" textLength="43" lengthAdjust="spacingAndGlyphs">GCGR</text>
<text x="407" y="126.8" textLength="48" lengthAdjust="spacingAndGlyphs">PTHR2</text>
<text x="270" y="138.8" textLength="42" lengthAdjust="spacingAndGlyphs">VIPR2</text>
<text x="262" y="170.8" textLength="44" lengthAdjust="spacingAndGlyphs">PACAP</text>
<text x="292" y="200.8" textLength="41" lengthAdjust="spacingAndGlyphs">VIPR1</text>
<text x="325" y="225.8" textLength="39" lengthAdjust="spacingAndGlyphs">SCTR</text>
<text x="336" y="244.8" textLength="52" lengthAdjust="spacingAndGlyphs">GHRHR</text>
<text x="489" y="23.8" textLength="42" lengthAdjust="spacingAndGlyphs">GRM7</text>
<text x="579" y="25.8" textLength="41" lengthAdjust="spacingAndGlyphs">GRM8</text>
<text x="604" y="45.8" textLength="42" lengthAdjust="spacingAndGlyphs">GRM2</text>
<text x="477" y="75.8" textLength="41" lengthAdjust="spacingAndGlyphs">GRM4</text>
<text x="612" y="79.3" textLength="42" lengthAdjust="spacingAndGlyphs">GRM3</text>
<text x="443" y="99.8" textLength="42" lengthAdjust="spacingAndGlyphs">GRM6</text>
<text x="704" y="56.8" textLength="53" lengthAdjust="spacingAndGlyphs">TAS1R3</text>
<text x="746" y="73.8" textLength="53" lengthAdjust="spacingAndGlyphs">TAS1R1</text>
<text x="798" y="80.8" textLength="34" lengthAdjust="spacingAndGlyphs">FZD1</text>
<text x="669" y="98.8" textLength="60" lengthAdjust="spacingAndGlyphs">GRPC6A</text>
<text x="623" y="114.3" textLength="42" lengthAdjust="spacingAndGlyphs">GRM5</text>
<text x="642" y="127.8" textLength="41" lengthAdjust="spacingAndGlyphs">GRM1</text>
<text x="654" y="150.8" textLength="53" lengthAdjust="spacingAndGlyphs">TAS1R2</text>
<text x="842" y="43.8" textLength="35" lengthAdjust="spacingAndGlyphs">FZD7</text>
<text x="878" y="64.3" textLength="36" lengthAdjust="spacingAndGlyphs">FZD2</text>
<text x="903" y="108.8" textLength="36" lengthAdjust="spacingAndGlyphs">FZD3</text>
<text x="460" y="185.8" textLength="49" lengthAdjust="spacingAndGlyphs">CRHR2</text>
<text x="502" y="196.8" textLength="57" lengthAdjust="spacingAndGlyphs">CALCRL</text>
<text x="428" y="203.8" textLength="49" lengthAdjust="spacingAndGlyphs">CRHR1</text>
<text x="777" y="222.8" textLength="35" lengthAdjust="spacingAndGlyphs">FZD4</text>
<text x="716" y="273.8" textLength="44" lengthAdjust="spacingAndGlyphs">SMOH</text>
<text x="832" y="262.8" textLength="52" lengthAdjust="spacingAndGlyphs">TAS2R4</text>
<text x="940" y="147.8" textLength="36" lengthAdjust="spacingAndGlyphs">FZD6</text>
<text x="938" y="173.8" textLength="36" lengthAdjust="spacingAndGlyphs">FZD8</text>
<text x="970" y="188.3" textLength="36" lengthAdjust="spacingAndGlyphs">FZD5</text>
<text x="1017" y="182.8" textLength="61" lengthAdjust="spacingAndGlyphs">TAS2R16</text>
<text x="1081" y="168.8" textLength="62" lengthAdjust="spacingAndGlyphs">TAS2R13</text>
<text x="1142" y="183.8" textLength="62" lengthAdjust="spacingAndGlyphs">TAS2R14</text>
<text x="893" y="205.8" textLength="46" lengthAdjust="spacingAndGlyphs">FZD10</text>
<text x="962" y="203.8" textLength="53" lengthAdjust="spacingAndGlyphs">TAS2R1</text>
<text x="928" y="218.8" textLength="53" lengthAdjust="spacingAndGlyphs">TAS2R5</text>
<text x="1152" y="204.3" textLength="61" lengthAdjust="spacingAndGlyphs">TAS2R10</text>
<text x="1145" y="217.8" textLength="53" lengthAdjust="spacingAndGlyphs">TAS2R3</text>
<text x="1145" y="233.8" textLength="53" lengthAdjust="spacingAndGlyphs">TAS2R9</text>
<text x="1177" y="244.8" textLength="52" lengthAdjust="spacingAndGlyphs">TAS2R8</text>
<text x="1183" y="257.8" textLength="53" lengthAdjust="spacingAndGlyphs">TAS2R7</text>
<text x="987" y="235.3" textLength="47" lengthAdjust="spacingAndGlyphs">GPR60</text>
<text x="892" y="231.8" textLength="34" lengthAdjust="spacingAndGlyphs">FZD9</text>
<text x="886" y="244.8" textLength="47" lengthAdjust="spacingAndGlyphs">GPR59</text>
<text x="1158" y="272.8" textLength="50" lengthAdjust="spacingAndGlyphs">CXCR3</text>
<text x="1093" y="283.8" textLength="50" lengthAdjust="spacingAndGlyphs">CXCR5</text>
<text x="1059" y="295.8" textLength="47" lengthAdjust="spacingAndGlyphs">CCR10</text>
<text x="1174" y="286.8" textLength="46" lengthAdjust="spacingAndGlyphs">CCR11</text>
<text x="1184" y="300.3" textLength="40" lengthAdjust="spacingAndGlyphs">CCR6</text>
<text x="1237" y="290.3" textLength="50" lengthAdjust="spacingAndGlyphs">CXCR2</text>
<text x="1244" y="306.3" textLength="49" lengthAdjust="spacingAndGlyphs">CXCR1</text>
<text x="1248" y="321.8" textLength="50" lengthAdjust="spacingAndGlyphs">CXCR6</text>
<text x="1270" y="335.3" textLength="39" lengthAdjust="spacingAndGlyphs">CCR9</text>
<text x="1122" y="320.3" textLength="50" lengthAdjust="spacingAndGlyphs">CXCR4</text>
<text x="929" y="302.8" textLength="46" lengthAdjust="spacingAndGlyphs">SSTR1</text>
<text x="1009" y="314.8" textLength="46" lengthAdjust="spacingAndGlyphs">SSTR5</text>
<text x="432" y="377.8" textLength="46" lengthAdjust="spacingAndGlyphs">NTSR1</text>
<text x="395" y="404.8" textLength="51" lengthAdjust="spacingAndGlyphs">NMU1R</text>
<text x="365" y="425.8" textLength="52" lengthAdjust="spacingAndGlyphs">NMU2R</text>
<text x="307" y="418.8" textLength="47" lengthAdjust="spacingAndGlyphs">NPY1R</text>
<text x="252" y="426.8" textLength="47" lengthAdjust="spacingAndGlyphs">PPYR1</text>
<text x="244" y="439.8" textLength="48" lengthAdjust="spacingAndGlyphs">NPY2R</text>
<text x="279" y="451.8" textLength="33" lengthAdjust="spacingAndGlyphs">PrRP</text>
<text x="134" y="443.8" textLength="45" lengthAdjust="spacingAndGlyphs">TACR3</text>
<text x="138" y="460.8" textLength="53" lengthAdjust="spacingAndGlyphs">TAC3RL</text>
<text x="163" y="475.8" textLength="46" lengthAdjust="spacingAndGlyphs">TACR1</text>
<text x="254" y="475.8" textLength="46" lengthAdjust="spacingAndGlyphs">TACR2</text>
<text x="199" y="490.8" textLength="44" lengthAdjust="spacingAndGlyphs">NPFF1</text>
<text x="167" y="514.8" textLength="45" lengthAdjust="spacingAndGlyphs">NPFF2</text>
<text x="261" y="508.8" textLength="59" lengthAdjust="spacingAndGlyphs">HCRTR2</text>
<text x="337" y="508.8" textLength="51" lengthAdjust="spacingAndGlyphs">CCKBR</text>
<text x="387" y="510.8" textLength="50" lengthAdjust="spacingAndGlyphs">CCKAR</text>
<text x="403" y="497.8" textLength="49" lengthAdjust="spacingAndGlyphs">NPY5R</text>
<text x="211" y="527.3" textLength="61" lengthAdjust="spacingAndGlyphs">GNRHRII</text>
<text x="283" y="529.8" textLength="58" lengthAdjust="spacingAndGlyphs">HCRTR1</text>
<text x="420" y="531.8" textLength="41" lengthAdjust="spacingAndGlyphs">MC3R</text>
<text x="383" y="545.8" textLength="41" lengthAdjust="spacingAndGlyphs">MC5R</text>
<text x="376" y="571.8" textLength="41" lengthAdjust="spacingAndGlyphs">MC4R</text>
<text x="431" y="593.8" textLength="41" lengthAdjust="spacingAndGlyphs">MC1R</text>
<text x="76" y="602.3" textLength="54" lengthAdjust="spacingAndGlyphs">AVPR1B</text>
<text x="282" y="621.8" textLength="37" lengthAdjust="spacingAndGlyphs">BRS3</text>
<text x="190" y="640.8" textLength="42" lengthAdjust="spacingAndGlyphs">NMBR</text>
<text x="205" y="661.8" textLength="41" lengthAdjust="spacingAndGlyphs">GRPR</text>
<text x="323" y="636.8" textLength="39" lengthAdjust="spacingAndGlyphs">EDG3</text>
<text x="321" y="665.8" textLength="39" lengthAdjust="spacingAndGlyphs">EDG5</text>
<text x="325" y="677.3" textLength="40" lengthAdjust="spacingAndGlyphs">EDG8</text>
<text x="369" y="679.8" textLength="39" lengthAdjust="spacingAndGlyphs">EDG6</text>
<text x="471" y="391.8" textLength="47" lengthAdjust="spacingAndGlyphs">NTSR2</text>
<text x="492" y="407.8" textLength="40" lengthAdjust="spacingAndGlyphs">GHSR</text>
<text x="765" y="444.8" textLength="39" lengthAdjust="spacingAndGlyphs">UR2R</text>
<text x="880" y="403.8" textLength="46" lengthAdjust="spacingAndGlyphs">GALR1</text>
<text x="858" y="431.8" textLength="51" lengthAdjust="spacingAndGlyphs">MCHR1</text>
<text x="861" y="444.8" textLength="52" lengthAdjust="spacingAndGlyphs">MCHR2</text>
<text x="823" y="477.8" textLength="46" lengthAdjust="spacingAndGlyphs">OR1A1</text>
<text x="823" y="493.8" textLength="48" lengthAdjust="spacingAndGlyphs">OR1D2</text>
<text x="823" y="509.8" textLength="48" lengthAdjust="spacingAndGlyphs">OR1G1</text>
<text x="823" y="526.8" textLength="46" lengthAdjust="spacingAndGlyphs">OR3A1</text>
<text x="891" y="490.3" textLength="87" lengthAdjust="spacingAndGlyphs">OLFACTORY</text>
<text x="891" y="506.8" textLength="89" lengthAdjust="spacingAndGlyphs">RECEPTORS</text>
<text x="471" y="606.8" textLength="41" lengthAdjust="spacingAndGlyphs">MC2R</text>
<text x="537" y="642.8" textLength="47" lengthAdjust="spacingAndGlyphs">GPR50</text>
<text x="1258" y="347.8" textLength="39" lengthAdjust="spacingAndGlyphs">CCR7</text>
<text x="1191" y="362.8" textLength="47" lengthAdjust="spacingAndGlyphs">CCRL2</text>
<text x="1208" y="373.8" textLength="57" lengthAdjust="spacingAndGlyphs">CXC3R1</text>
<text x="1267" y="369.8" textLength="40" lengthAdjust="spacingAndGlyphs">CCR8</text>
<text x="1277" y="383.8" textLength="40" lengthAdjust="spacingAndGlyphs">CCR4</text>
<text x="1316" y="395.8" textLength="38" lengthAdjust="spacingAndGlyphs">CCR1</text>
<text x="1329" y="413.3" textLength="39" lengthAdjust="spacingAndGlyphs">CCR3</text>
<text x="1186" y="404.8" textLength="48" lengthAdjust="spacingAndGlyphs">CCBP2</text>
<text x="1177" y="418.8" textLength="50" lengthAdjust="spacingAndGlyphs">CXCR1</text>
<text x="1145" y="425.8" textLength="40" lengthAdjust="spacingAndGlyphs">ADMR</text>
<text x="1098" y="450.8" textLength="56" lengthAdjust="spacingAndGlyphs">AGTRL1</text>
<text x="1213" y="450.8" textLength="47" lengthAdjust="spacingAndGlyphs">AGTR2</text>
<text x="1228" y="463.8" textLength="59" lengthAdjust="spacingAndGlyphs">BDKRB2</text>
<text x="1291" y="467.8" textLength="40" lengthAdjust="spacingAndGlyphs">CCR2</text>
<text x="1247" y="478.8" textLength="48" lengthAdjust="spacingAndGlyphs">SALPR</text>
<text x="1233" y="492.8" textLength="57" lengthAdjust="spacingAndGlyphs">BDKBR1</text>
<text x="1149" y="496.8" textLength="47" lengthAdjust="spacingAndGlyphs">CRTH2</text>
<text x="1009" y="519.8" textLength="44" lengthAdjust="spacingAndGlyphs">BLTR2</text>
<text x="1055" y="526.8" textLength="36" lengthAdjust="spacingAndGlyphs">BLTR</text>
<text x="1252" y="529.8" textLength="36" lengthAdjust="spacingAndGlyphs">FPR1</text>
<text x="1096" y="554.8" textLength="35" lengthAdjust="spacingAndGlyphs">C5R1</text>
<text x="1150" y="547.8" textLength="37" lengthAdjust="spacingAndGlyphs">C5R2</text>
<text x="1135" y="562.3" textLength="59" lengthAdjust="spacingAndGlyphs">CMKLR1</text>
<text x="1117" y="589.8" textLength="37" lengthAdjust="spacingAndGlyphs">LGR7</text>
<text x="1049" y="605.8" textLength="44" lengthAdjust="spacingAndGlyphs">MRGD</text>
<text x="1137" y="633.8" textLength="33" lengthAdjust="spacingAndGlyphs">LGR4</text>
<text x="929" y="410.8" textLength="48" lengthAdjust="spacingAndGlyphs">GALR2</text>
<text x="925" y="423.8" textLength="47" lengthAdjust="spacingAndGlyphs">GALR3</text>
<text x="936" y="371.8" textLength="32" lengthAdjust="spacingAndGlyphs">GPR</text>
<text x="320" y="696.8" textLength="40" lengthAdjust="spacingAndGlyphs">EDG2</text>
<text x="322" y="723.8" textLength="39" lengthAdjust="spacingAndGlyphs">EDG7</text>
<text x="359" y="730.8" textLength="39" lengthAdjust="spacingAndGlyphs">EDG4</text>
<text x="316" y="772.3" textLength="61" lengthAdjust="spacingAndGlyphs">OPN1LW</text>
<text x="308" y="787.8" textLength="65" lengthAdjust="spacingAndGlyphs">OPN1MW</text>
<text x="393" y="782.3" textLength="32" lengthAdjust="spacingAndGlyphs">RHO</text>
<text x="424" y="759.8" textLength="61" lengthAdjust="spacingAndGlyphs">OPN1SW</text>
<text x="346" y="802.8" textLength="48" lengthAdjust="spacingAndGlyphs">ADRB3</text>
<text x="410" y="910.3" textLength="46" lengthAdjust="spacingAndGlyphs">HTR1E</text>
<text x="416" y="932.8" textLength="46" lengthAdjust="spacingAndGlyphs">HTR1F</text>
<text x="432" y="853.8" textLength="43" lengthAdjust="spacingAndGlyphs">HTR2A</text>
<text x="538" y="697.8" textLength="39" lengthAdjust="spacingAndGlyphs">OPN4</text>
<text x="602" y="711.8" textLength="40" lengthAdjust="spacingAndGlyphs">HRH3</text>
<text x="643" y="719.8" textLength="39" lengthAdjust="spacingAndGlyphs">HRH4</text>
<text x="572" y="737.8" textLength="38" lengthAdjust="spacingAndGlyphs">HTR4</text>
<text x="649" y="741.8" textLength="27" lengthAdjust="spacingAndGlyphs">PNR</text>
<text x="558" y="774.8" textLength="39" lengthAdjust="spacingAndGlyphs">HTR6</text>
<text x="624" y="778.3" textLength="36" lengthAdjust="spacingAndGlyphs">TAR1</text>
<text x="687" y="785.8" textLength="34" lengthAdjust="spacingAndGlyphs">TAR3</text>
<text x="705" y="808.3" textLength="36" lengthAdjust="spacingAndGlyphs">TAR5</text>
<text x="688" y="824.8" textLength="35" lengthAdjust="spacingAndGlyphs">TAR4</text>
<text x="508" y="853.8" textLength="39" lengthAdjust="spacingAndGlyphs">HTR5</text>
<text x="488" y="869.8" textLength="38" lengthAdjust="spacingAndGlyphs">HTR7</text>
<text x="623" y="981.8" textLength="51" lengthAdjust="spacingAndGlyphs">CHRM5</text>
<text x="766" y="721.8" textLength="53" lengthAdjust="spacingAndGlyphs">FKSG77</text>
<text x="734" y="688.8" textLength="42" lengthAdjust="spacingAndGlyphs">PTGIR</text>
<text x="477" y="733.8" textLength="36" lengthAdjust="spacingAndGlyphs">OPN3</text>
<text transform="translate(719,735) rotate(60)" x="-26" y="4.8" textLength="52" lengthAdjust="spacingAndGlyphs">TBXA2R</text>
<text transform="translate(908,831) rotate(75)" x="-17" y="4.8" textLength="34" lengthAdjust="spacingAndGlyphs">P2Y4</text>
<text transform="translate(846,835) rotate(-60)" x="-14" y="4.8" textLength="28" lengthAdjust="spacingAndGlyphs">G2A</text>
<text transform="translate(1023.2,783.6) rotate(45)" x="-17.5" y="4.8" textLength="35" lengthAdjust="spacingAndGlyphs">P2Y9</text>
<text transform="translate(995.8,796.8) rotate(45)" x="-17.5" y="4.8" textLength="35" lengthAdjust="spacingAndGlyphs">P2Y5</text>
<text transform="translate(960,739) rotate(50)" x="-21" y="4.8" textLength="42" lengthAdjust="spacingAndGlyphs">P2Y10</text>
<text transform="translate(935.5,758) rotate(55)" x="-21" y="4.8" textLength="42" lengthAdjust="spacingAndGlyphs">P2Y11</text>
<text transform="translate(960,799.6) rotate(70)" x="-22" y="4.8" textLength="44" lengthAdjust="spacingAndGlyphs">GPR91</text>
<text transform="translate(921.3,796.8) rotate(68)" x="-17" y="4.8" textLength="34" lengthAdjust="spacingAndGlyphs">P2Y6</text>
<text transform="translate(927,830.8) rotate(68)" x="-17" y="4.8" textLength="34" lengthAdjust="spacingAndGlyphs">P2Y2</text>
</g>
<g transform="translate(140.5,136.5)"><rect x="-32.5" y="-12.5" width="65" height="25" rx="5.5" fill="#22ac47"/><rect x="-27.5" y="-7.5" width="55" height="15" rx="0" fill="#80c873"/><text x="-18.4041" y="4.7" font-size="13.5" fill="#2a9038" textLength="36.8082" lengthAdjust="spacingAndGlyphs">LEC1</text></g>
<g transform="translate(113.5,161.5)"><rect x="-32.5" y="-12.5" width="65" height="25" rx="5.5" fill="#22ac47"/><rect x="-27.5" y="-7.5" width="55" height="15" rx="0" fill="#80c873"/><text x="-18.4041" y="4.7" font-size="13.5" fill="#2a9038" textLength="36.8082" lengthAdjust="spacingAndGlyphs">LEC2</text></g>
<g transform="translate(106,193.5)"><rect x="-29" y="-12.5" width="58" height="25" rx="5.5" fill="#22ac47"/><rect x="-24" y="-7.5" width="48" height="15" rx="0" fill="#80c873"/><text x="-18.4041" y="4.7" font-size="13.5" fill="#2a9038" textLength="36.8082" lengthAdjust="spacingAndGlyphs">LEC3</text></g>
<g transform="translate(71,209.5)"><rect x="-32" y="-12.5" width="64" height="25" rx="5.5" fill="#22ac47"/><rect x="-27" y="-7.5" width="54" height="15" rx="0" fill="#80c873"/><text x="-20.4412" y="4.7" font-size="13.5" fill="#2a9038" textLength="40.8824" lengthAdjust="spacingAndGlyphs">EMR2</text></g>
<g transform="translate(39,246)"><rect x="-32" y="-12" width="64" height="24" rx="5.5" fill="#22ac47"/><rect x="-27" y="-7" width="54" height="14" rx="0" fill="#80c873"/><text x="-20.4412" y="4.7" font-size="13.5" fill="#2a9038" textLength="40.8824" lengthAdjust="spacingAndGlyphs">EMR3</text></g>
<g transform="translate(140,236.5)"><rect x="-29" y="-12.5" width="58" height="25" rx="5.5" fill="#22ac47"/><rect x="-24" y="-7.5" width="48" height="15" rx="0" fill="#80c873"/><text x="-13.493" y="4.7" font-size="13.5" fill="#2a9038" textLength="26.9859" lengthAdjust="spacingAndGlyphs">ETL</text></g>
<g transform="translate(71.5,275.5)"><rect x="-32.5" y="-12.5" width="65" height="25" rx="5.5" fill="#22ac47"/><rect x="-27.5" y="-7.5" width="55" height="15" rx="0" fill="#80c873"/><text x="-20.4412" y="4.7" font-size="13.5" fill="#2a9038" textLength="40.8824" lengthAdjust="spacingAndGlyphs">EMR1</text></g>
<g transform="translate(125,295.5)"><rect x="-33" y="-12.5" width="66" height="25" rx="5.5" fill="#22ac47"/><rect x="-28" y="-7.5" width="56" height="15" rx="0" fill="#80c873"/><text x="-18.8099" y="4.7" font-size="13.5" fill="#2a9038" textLength="37.6198" lengthAdjust="spacingAndGlyphs">CD97</text></g>
<g transform="translate(76,317.5)"><rect x="-32" y="-12.5" width="64" height="25" rx="5.5" fill="#22ac47"/><rect x="-27" y="-7.5" width="54" height="15" rx="0" fill="#80c873"/><text x="-26.5" y="4.7" font-size="13.5" fill="#2a9038" textLength="53" lengthAdjust="spacingAndGlyphs">GPR111</text></g>
<g transform="translate(234.5,173)"><rect x="-32.5" y="-12" width="65" height="24" rx="5.5" fill="#22ac47"/><rect x="-27.5" y="-7" width="55" height="14" rx="0" fill="#80c873"/><text x="-27" y="4.7" font-size="13.5" fill="#2a9038" textLength="54" lengthAdjust="spacingAndGlyphs">CELSR2</text></g>
<g transform="translate(201,203)"><rect x="-33" y="-12" width="66" height="24" rx="5.5" fill="#22ac47"/><rect x="-28" y="-7" width="56" height="14" rx="0" fill="#80c873"/><text x="-27.5" y="4.7" font-size="13.5" fill="#2a9038" textLength="55" lengthAdjust="spacingAndGlyphs">CELSR3</text></g>
<g transform="translate(229,245)"><rect x="-33" y="-12" width="66" height="24" rx="5.5" fill="#22ac47"/><rect x="-28" y="-7" width="56" height="14" rx="0" fill="#80c873"/><text x="-27.5" y="4.7" font-size="13.5" fill="#2a9038" textLength="55" lengthAdjust="spacingAndGlyphs">CELSR1</text></g>
<g transform="translate(279,216)"><rect x="-29" y="-12" width="58" height="24" rx="5.5" fill="#22ac47"/><rect x="-24" y="-7" width="48" height="14" rx="0" fill="#80c873"/><text x="-15.9508" y="4.7" font-size="13.5" fill="#2a9038" textLength="31.9017" lengthAdjust="spacingAndGlyphs">BAI2</text></g>
<g transform="translate(285.5,236)"><rect x="-30.5" y="-12" width="61" height="24" rx="5.5" fill="#22ac47"/><rect x="-25.5" y="-7" width="51" height="14" rx="0" fill="#80c873"/><text x="-15.9508" y="4.7" font-size="13.5" fill="#2a9038" textLength="31.9017" lengthAdjust="spacingAndGlyphs">BAI3</text></g>
<g transform="translate(329,269)"><rect x="-29" y="-12" width="58" height="24" rx="5.5" fill="#22ac47"/><rect x="-24" y="-7" width="48" height="14" rx="0" fill="#80c873"/><text x="-15.9508" y="4.7" font-size="13.5" fill="#2a9038" textLength="31.9017" lengthAdjust="spacingAndGlyphs">BAI1</text></g>
<g transform="translate(73,347)"><rect x="-32" y="-12" width="64" height="24" rx="5.5" fill="#22ac47"/><rect x="-27" y="-7" width="54" height="14" rx="0" fill="#80c873"/><text x="-26.5" y="4.7" font-size="13.5" fill="#2a9038" textLength="53" lengthAdjust="spacingAndGlyphs">GPR115</text></g>
<g transform="translate(171,358)"><rect x="-32" y="-12" width="64" height="24" rx="5.5" fill="#22ac47"/><rect x="-27" y="-7" width="54" height="14" rx="0" fill="#80c873"/><text x="-26.5" y="4.7" font-size="13.5" fill="#2a9038" textLength="53" lengthAdjust="spacingAndGlyphs">GPR116</text></g>
<g transform="translate(239,358)"><rect x="-32" y="-12" width="64" height="24" rx="5.5" fill="#22ac47"/><rect x="-27" y="-7" width="54" height="14" rx="0" fill="#80c873"/><text x="-26.5" y="4.7" font-size="13.5" fill="#2a9038" textLength="53" lengthAdjust="spacingAndGlyphs">GPR112</text></g>
<g transform="translate(260.5,375)"><rect x="-31.5" y="-12" width="63" height="24" rx="5.5" fill="#22ac47"/><rect x="-26.5" y="-7" width="53" height="14" rx="0" fill="#80c873"/><text x="-26" y="4.7" font-size="13.5" fill="#2a9038" textLength="52" lengthAdjust="spacingAndGlyphs">GPR110</text></g>
<g transform="translate(325.5,362.5)"><rect x="-32.5" y="-12.5" width="65" height="25" rx="5.5" fill="#22ac47"/><rect x="-27.5" y="-7.5" width="55" height="15" rx="0" fill="#80c873"/><text x="-27" y="4.7" font-size="13.5" fill="#2a9038" textLength="54" lengthAdjust="spacingAndGlyphs">GPR113</text></g>
<g transform="translate(295.5,393)"><rect x="-23.5" y="-11" width="47" height="22" rx="5.5" fill="#22ac47"/><rect x="-18.5" y="-6" width="37" height="12" rx="0" fill="#80c873"/><text x="-14.3126" y="4.7" font-size="13.5" fill="#2a9038" textLength="28.6253" lengthAdjust="spacingAndGlyphs">HE6</text></g>
<g transform="translate(353,399)"><rect x="-33" y="-12" width="66" height="24" rx="5.5" fill="#22ac47"/><rect x="-28" y="-7" width="56" height="14" rx="0" fill="#80c873"/><text x="-27.5" y="4.7" font-size="13.5" fill="#2a9038" textLength="55" lengthAdjust="spacingAndGlyphs">GPR114</text></g>
<g transform="translate(195,395)"><rect x="-32" y="-12" width="64" height="24" rx="5.5" fill="#22ac47"/><rect x="-27" y="-7" width="54" height="14" rx="0" fill="#80c873"/><text x="-26.5" y="4.7" font-size="13.5" fill="#2a9038" textLength="53" lengthAdjust="spacingAndGlyphs">TM7XN1</text></g>
<g transform="translate(202,417)"><rect x="-32" y="-12" width="64" height="24" rx="5.5" fill="#22ac47"/><rect x="-27" y="-7" width="54" height="14" rx="0" fill="#80c873"/><text x="-24.1269" y="4.7" font-size="13.5" fill="#2a9038" textLength="48.2537" lengthAdjust="spacingAndGlyphs">GPR97</text></g>
<g transform="translate(336.5,468.5)"><rect x="-30.5" y="-11.5" width="61" height="23" rx="5.5" fill="#22ac47"/><rect x="-25.5" y="-6.5" width="51" height="13" rx="0" fill="#80c873"/><text x="-24.1269" y="4.7" font-size="13.5" fill="#2a9038" textLength="48.2537" lengthAdjust="spacingAndGlyphs">GRP72</text></g>
<g transform="translate(387.5,602)"><rect x="-29.5" y="-11" width="59" height="22" rx="5.5" fill="#22ac47"/><rect x="-24.5" y="-6" width="49" height="12" rx="0" fill="#80c873"/><text x="-20.0354" y="4.7" font-size="13.5" fill="#2a9038" textLength="40.0708" lengthAdjust="spacingAndGlyphs">GPR6</text></g>
<g transform="translate(392,586)"><rect x="-30" y="-12" width="60" height="24" rx="5.5" fill="#22ac47"/><rect x="-25" y="-7" width="50" height="14" rx="0" fill="#80c873"/><text x="-20.0354" y="4.7" font-size="13.5" fill="#2a9038" textLength="40.0708" lengthAdjust="spacingAndGlyphs">GPR3</text></g>
<g transform="translate(458.5,622)"><rect x="-29.5" y="-12" width="59" height="24" rx="5.5" fill="#22ac47"/><rect x="-24.5" y="-7" width="49" height="14" rx="0" fill="#80c873"/><text x="-24" y="4.7" font-size="13.5" fill="#2a9038" textLength="48" lengthAdjust="spacingAndGlyphs">GPR12</text></g>
<g transform="translate(180.5,686.5)"><rect x="-38.5" y="-12.5" width="77" height="25" rx="5.5" fill="#22ac47"/><rect x="-33.5" y="-7.5" width="67" height="15" rx="0" fill="#80c873"/><text x="-32.7133" y="4.7" font-size="13.5" fill="#2a9038" textLength="65.4266" lengthAdjust="spacingAndGlyphs">ETBRLP1</text></g>
<g transform="translate(210.5,710.5)"><rect x="-38.5" y="-12.5" width="77" height="25" rx="5.5" fill="#22ac47"/><rect x="-33.5" y="-7.5" width="67" height="15" rx="0" fill="#80c873"/><text x="-32.7133" y="4.7" font-size="13.5" fill="#2a9038" textLength="65.4266" lengthAdjust="spacingAndGlyphs">ETBRLP2</text></g>
<g transform="translate(455,690)"><rect x="-39" y="-12" width="78" height="24" rx="5.5" fill="#22ac47"/><rect x="-34" y="-7" width="68" height="14" rx="0" fill="#80c873"/><text x="-24.1269" y="4.7" font-size="13.5" fill="#2a9038" textLength="48.2537" lengthAdjust="spacingAndGlyphs">GPR52</text></g>
<g transform="translate(464,711)"><rect x="-31" y="-11" width="62" height="22" rx="5.5" fill="#22ac47"/><rect x="-26" y="-6" width="52" height="12" rx="0" fill="#80c873"/><text x="-24.1269" y="4.7" font-size="13.5" fill="#2a9038" textLength="48.2537" lengthAdjust="spacingAndGlyphs">GPR21</text></g>
<g transform="translate(358.5,104.5)"><rect x="-32.5" y="-12.5" width="65" height="25" rx="5.5" fill="#e8402a"/><rect x="-27.5" y="-7.5" width="55" height="15" rx="0" fill="#f2936f"/><text x="-24.1269" y="4.7" font-size="13.5" fill="#b43a22" textLength="48.2537" lengthAdjust="spacingAndGlyphs">GLP1R</text></g>
<g transform="translate(459.5,134.5)"><rect x="-32.5" y="-12.5" width="65" height="25" rx="5.5" fill="#e8402a"/><rect x="-27.5" y="-7.5" width="55" height="15" rx="0" fill="#f2936f"/><text x="-24.12" y="4.7" font-size="13.5" fill="#b43a22" textLength="48.2399" lengthAdjust="spacingAndGlyphs">PTHR1</text></g>
<g transform="translate(567,217)"><rect x="-33" y="-13" width="66" height="26" rx="5.5" fill="#e8402a"/><rect x="-28" y="-8" width="56" height="16" rx="0" fill="#f2936f"/><text x="-24.9396" y="4.7" font-size="13.5" fill="#b43a22" textLength="49.8793" lengthAdjust="spacingAndGlyphs">CALCR</text></g>
<g transform="translate(654.5,199.5)"><rect x="-33.5" y="-12.5" width="67" height="25" rx="5.5" fill="#e8402a"/><rect x="-28.5" y="-7.5" width="57" height="15" rx="0" fill="#f2936f"/><text x="-20.4424" y="4.7" font-size="13.5" fill="#b43a22" textLength="40.8847" lengthAdjust="spacingAndGlyphs">CASR</text></g>
<g transform="translate(756.5,197.5)"><rect x="-35.5" y="-12.5" width="71" height="25" rx="5.5" fill="#e8402a"/><rect x="-30.5" y="-7.5" width="61" height="15" rx="0" fill="#f2936f"/><text x="-29.8508" y="4.7" font-size="13.5" fill="#b43a22" textLength="59.7015" lengthAdjust="spacingAndGlyphs">GABBR2</text></g>
<g transform="translate(742.5,239.5)"><rect x="-34.5" y="-12.5" width="69" height="25" rx="5.5" fill="#e8402a"/><rect x="-29.5" y="-7.5" width="59" height="15" rx="0" fill="#f2936f"/><text x="-29" y="4.7" font-size="13.5" fill="#b43a22" textLength="58" lengthAdjust="spacingAndGlyphs">GABBR1</text></g>
<g transform="translate(1015,292)"><rect x="-33" y="-13" width="66" height="26" rx="5.5" fill="#e8402a"/><rect x="-28" y="-8" width="56" height="16" rx="0" fill="#f2936f"/><text x="-23.7141" y="4.7" font-size="13.5" fill="#b43a22" textLength="47.4283" lengthAdjust="spacingAndGlyphs">SSTR3</text></g>
<g transform="translate(992,333)"><rect x="-32" y="-12" width="64" height="24" rx="5.5" fill="#e8402a"/><rect x="-27" y="-7" width="54" height="14" rx="0" fill="#f2936f"/><text x="-23.7141" y="4.7" font-size="13.5" fill="#b43a22" textLength="47.4283" lengthAdjust="spacingAndGlyphs">SSTR2</text></g>
<g transform="translate(1006.5,352)"><rect x="-31.5" y="-12" width="63" height="24" rx="5.5" fill="#e8402a"/><rect x="-26.5" y="-7" width="53" height="14" rx="0" fill="#f2936f"/><text x="-23.7141" y="4.7" font-size="13.5" fill="#b43a22" textLength="47.4283" lengthAdjust="spacingAndGlyphs">SSTR4</text></g>
<g transform="translate(997,375.5)"><rect x="-31" y="-11.5" width="62" height="23" rx="5.5" fill="#e8402a"/><rect x="-26" y="-6.5" width="52" height="13" rx="0" fill="#f2936f"/><text x="-24.9431" y="4.7" font-size="13.5" fill="#b43a22" textLength="49.8861" lengthAdjust="spacingAndGlyphs">OPRK1</text></g>
<g transform="translate(1044.5,387)"><rect x="-32.5" y="-12" width="65" height="24" rx="5.5" fill="#e8402a"/><rect x="-27.5" y="-7" width="55" height="14" rx="0" fill="#f2936f"/><text x="-26.164" y="4.7" font-size="13.5" fill="#b43a22" textLength="52.3279" lengthAdjust="spacingAndGlyphs">OPRM1</text></g>
<g transform="translate(1011.5,405.5)"><rect x="-31.5" y="-12.5" width="63" height="25" rx="5.5" fill="#e8402a"/><rect x="-26.5" y="-7.5" width="53" height="15" rx="0" fill="#f2936f"/><text x="-25.3489" y="4.7" font-size="13.5" fill="#b43a22" textLength="50.6978" lengthAdjust="spacingAndGlyphs">OPRD1</text></g>
<g transform="translate(1202,432)"><rect x="-32" y="-12" width="64" height="24" rx="5.5" fill="#e8402a"/><rect x="-27" y="-7" width="54" height="14" rx="0" fill="#f2936f"/><text x="-24.5292" y="4.7" font-size="13.5" fill="#b43a22" textLength="49.0584" lengthAdjust="spacingAndGlyphs">AGTR1</text></g>
<g transform="translate(1331,440.5)"><rect x="-32" y="-12.5" width="64" height="25" rx="5.5" fill="#e8402a"/><rect x="-27" y="-7.5" width="54" height="15" rx="0" fill="#f2936f"/><text x="-20.0319" y="4.7" font-size="13.5" fill="#b43a22" textLength="40.0639" lengthAdjust="spacingAndGlyphs">CCR5</text></g>
<g transform="translate(881,351.5)"><rect x="-32" y="-12.5" width="64" height="25" rx="5.5" fill="#22ac47"/><rect x="-27" y="-7.5" width="54" height="15" rx="0" fill="#80c873"/><text x="-20.0354" y="4.7" font-size="13.5" fill="#2a9038" textLength="40.0708" lengthAdjust="spacingAndGlyphs">GPR8</text></g>
<g transform="translate(917,358)"><rect x="-32" y="-12" width="64" height="24" rx="5.5" fill="#22ac47"/><rect x="-27" y="-7" width="54" height="14" rx="0" fill="#80c873"/><text x="-20.0354" y="4.7" font-size="13.5" fill="#2a9038" textLength="40.0708" lengthAdjust="spacingAndGlyphs">GPR7</text></g>
<g transform="translate(847,395.5)"><rect x="-32" y="-12.5" width="64" height="25" rx="5.5" fill="#22ac47"/><rect x="-27" y="-7.5" width="54" height="15" rx="0" fill="#80c873"/><text x="-24.1269" y="4.7" font-size="13.5" fill="#2a9038" textLength="48.2537" lengthAdjust="spacingAndGlyphs">GPR54</text></g>
<g transform="translate(1145.5,407.5)"><rect x="-32.5" y="-12.5" width="65" height="25" rx="5.5" fill="#22ac47"/><rect x="-27.5" y="-7.5" width="55" height="15" rx="0" fill="#80c873"/><text x="-20.0319" y="4.7" font-size="13.5" fill="#2a9038" textLength="40.0639" lengthAdjust="spacingAndGlyphs">RDC1</text></g>
<g transform="translate(1162.5,460)"><rect x="-32.5" y="-12" width="65" height="24" rx="5.5" fill="#22ac47"/><rect x="-27.5" y="-7" width="55" height="14" rx="0" fill="#80c873"/><text x="-24.1269" y="4.7" font-size="13.5" fill="#2a9038" textLength="48.2537" lengthAdjust="spacingAndGlyphs">GPR25</text></g>
<g transform="translate(1171,477)"><rect x="-33" y="-12" width="66" height="24" rx="5.5" fill="#22ac47"/><rect x="-28" y="-7" width="56" height="14" rx="0" fill="#80c873"/><text x="-24.1269" y="4.7" font-size="13.5" fill="#2a9038" textLength="48.2537" lengthAdjust="spacingAndGlyphs">GPR15</text></g>
<g transform="translate(1238,506)"><rect x="-32" y="-12" width="64" height="24" rx="5.5" fill="#22ac47"/><rect x="-27" y="-7" width="54" height="14" rx="0" fill="#80c873"/><text x="-24.1269" y="4.7" font-size="13.5" fill="#2a9038" textLength="48.2537" lengthAdjust="spacingAndGlyphs">GPR32</text></g>
<g transform="translate(1175,532)"><rect x="-33" y="-12" width="66" height="24" rx="5.5" fill="#22ac47"/><rect x="-28" y="-7" width="56" height="14" rx="0" fill="#80c873"/><text x="-20.0354" y="4.7" font-size="13.5" fill="#2a9038" textLength="40.0708" lengthAdjust="spacingAndGlyphs">GPR1</text></g>
<g transform="translate(1301,545.5)"><rect x="-32" y="-12.5" width="64" height="25" rx="5.5" fill="#22ac47"/><rect x="-27" y="-7.5" width="54" height="15" rx="0" fill="#80c873"/><text x="-22.8979" y="4.7" font-size="13.5" fill="#2a9038" textLength="45.7958" lengthAdjust="spacingAndGlyphs">FPRL2</text></g>
<g transform="translate(1302.5,578.5)"><rect x="-32.5" y="-12.5" width="65" height="25" rx="5.5" fill="#22ac47"/><rect x="-27.5" y="-7.5" width="55" height="15" rx="0" fill="#80c873"/><text x="-22.8979" y="4.7" font-size="13.5" fill="#2a9038" textLength="45.7958" lengthAdjust="spacingAndGlyphs">FPRL1</text></g>
<g transform="translate(1126,569.5)"><rect x="-33" y="-11.5" width="66" height="23" rx="5.5" fill="#22ac47"/><rect x="-28" y="-6.5" width="56" height="13" rx="0" fill="#80c873"/><text x="-19.2192" y="4.7" font-size="13.5" fill="#2a9038" textLength="38.4383" lengthAdjust="spacingAndGlyphs">LGR8</text></g>
<g transform="translate(1198,599)"><rect x="-32" y="-12" width="64" height="24" rx="5.5" fill="#e8402a"/><rect x="-27" y="-7" width="54" height="14" rx="0" fill="#f2936f"/><text x="-20.0285" y="4.7" font-size="13.5" fill="#b43a22" textLength="40.057" lengthAdjust="spacingAndGlyphs">FSHR</text></g>
<g transform="translate(1242,616.5)"><rect x="-32" y="-12.5" width="64" height="25" rx="5.5" fill="#e8402a"/><rect x="-27" y="-7.5" width="54" height="15" rx="0" fill="#f2936f"/><text x="-25.7547" y="4.7" font-size="13.5" fill="#b43a22" textLength="51.5094" lengthAdjust="spacingAndGlyphs">LHCGR</text></g>
<g transform="translate(1202,632.5)"><rect x="-32" y="-12.5" width="64" height="25" rx="5.5" fill="#e8402a"/><rect x="-27" y="-7.5" width="54" height="15" rx="0" fill="#f2936f"/><text x="-20.0285" y="4.7" font-size="13.5" fill="#b43a22" textLength="40.057" lengthAdjust="spacingAndGlyphs">TSHR</text></g>
<g transform="translate(1193,656)"><rect x="-32" y="-12" width="64" height="24" rx="5.5" fill="#22ac47"/><rect x="-27" y="-7" width="54" height="14" rx="0" fill="#80c873"/><text x="-19.2192" y="4.7" font-size="13.5" fill="#2a9038" textLength="38.4383" lengthAdjust="spacingAndGlyphs">LGR6</text></g>
<g transform="translate(1173,680.5)"><rect x="-32" y="-11.5" width="64" height="23" rx="5.5" fill="#22ac47"/><rect x="-27" y="-6.5" width="54" height="13" rx="0" fill="#80c873"/><text x="-19.2192" y="4.7" font-size="13.5" fill="#2a9038" textLength="38.4383" lengthAdjust="spacingAndGlyphs">LGR5</text></g>
<g transform="translate(973.5,639)"><rect x="-24.5" y="-12" width="49" height="24" rx="5.5" fill="#22ac47"/><rect x="-19.5" y="-7" width="39" height="14" rx="0" fill="#80c873"/><text x="-19" y="4.7" font-size="13.5" fill="#2a9038" textLength="38" lengthAdjust="spacingAndGlyphs">MRGE</text></g>
<g transform="translate(999,650.5)"><rect x="-26" y="-11.5" width="52" height="23" rx="5.5" fill="#22ac47"/><rect x="-21" y="-6.5" width="42" height="13" rx="0" fill="#80c873"/><text x="-15.9439" y="4.7" font-size="13.5" fill="#2a9038" textLength="31.8879" lengthAdjust="spacingAndGlyphs">MAS</text></g>
<g transform="translate(1043.5,634.5)"><rect x="-32.5" y="-11.5" width="65" height="23" rx="5.5" fill="#22ac47"/><rect x="-27.5" y="-6.5" width="55" height="13" rx="0" fill="#80c873"/><text x="-21.6586" y="4.7" font-size="13.5" fill="#2a9038" textLength="43.3173" lengthAdjust="spacingAndGlyphs">MRGF</text></g>
<g transform="translate(1102.5,645.5)"><rect x="-32.5" y="-11.5" width="65" height="23" rx="5.5" fill="#22ac47"/><rect x="-27.5" y="-6.5" width="55" height="13" rx="0" fill="#80c873"/><text x="-26.164" y="4.7" font-size="13.5" fill="#2a9038" textLength="52.3279" lengthAdjust="spacingAndGlyphs">MRGX2</text></g>
<g transform="translate(1028.5,666.5)"><rect x="-34.5" y="-12.5" width="69" height="25" rx="11" fill="#22ac47"/><rect x="-29.5" y="-7.5" width="59" height="15" rx="6" fill="#80c873"/><text x="-28.2149" y="4.7" font-size="13.5" fill="#2a9038" textLength="56.4297" lengthAdjust="spacingAndGlyphs">FKSG80</text></g>
<g transform="translate(1123,700.5)"><rect x="-32" y="-12.5" width="64" height="25" rx="5.5" fill="#22ac47"/><rect x="-27" y="-7.5" width="54" height="15" rx="0" fill="#80c873"/><text x="-26.164" y="4.7" font-size="13.5" fill="#2a9038" textLength="52.3279" lengthAdjust="spacingAndGlyphs">MRGX1</text></g>
<g transform="translate(1112,723.5)"><rect x="-33" y="-12.5" width="66" height="25" rx="5.5" fill="#22ac47"/><rect x="-28" y="-7.5" width="56" height="15" rx="0" fill="#80c873"/><text x="-26.164" y="4.7" font-size="13.5" fill="#2a9038" textLength="52.3279" lengthAdjust="spacingAndGlyphs">MRGX3</text></g>
<g transform="translate(937.5,531.5)"><rect x="-25.5" y="-14.5" width="51" height="29" rx="5.5" fill="#e8402a"/><rect x="-20.5" y="-9.5" width="41" height="19" rx="0" fill="#f2936f"/><text x="-20" y="4.7" font-size="13.5" fill="#b43a22" textLength="40" lengthAdjust="spacingAndGlyphs">TRHR</text></g>
<g transform="translate(529.5,426.5)"><rect x="-30.5" y="-12.5" width="61" height="25" rx="5.5" fill="#22ac47"/><rect x="-25.5" y="-7.5" width="51" height="15" rx="0" fill="#80c873"/><text x="-20.0273" y="4.7" font-size="13.5" fill="#2a9038" textLength="40.0547" lengthAdjust="spacingAndGlyphs">MTLR</text></g>
<g transform="translate(545,517)"><rect x="-38" y="-12" width="76" height="24" rx="5.5" fill="#e8402a"/><rect x="-33" y="-7" width="66" height="14" rx="0" fill="#f2936f"/><text x="-30.2566" y="4.7" font-size="13.5" fill="#b43a22" textLength="60.5131" lengthAdjust="spacingAndGlyphs">ADORA1</text></g>
<g transform="translate(478,557.5)"><rect x="-44" y="-11.5" width="88" height="23" rx="5.5" fill="#e8402a"/><rect x="-39" y="-6.5" width="78" height="13" rx="0" fill="#f2936f"/><text x="-35.1643" y="4.7" font-size="13.5" fill="#b43a22" textLength="70.3285" lengthAdjust="spacingAndGlyphs">ADORA2B</text></g>
<g transform="translate(493,538)"><rect x="-44" y="-12" width="88" height="24" rx="5.5" fill="#e8402a"/><rect x="-39" y="-7" width="78" height="14" rx="0" fill="#f2936f"/><text x="-35.1643" y="4.7" font-size="13.5" fill="#b43a22" textLength="70.3285" lengthAdjust="spacingAndGlyphs">ADORA2A</text></g>
<g transform="translate(581.5,535.5)"><rect x="-38.5" y="-11.5" width="77" height="23" rx="5.5" fill="#e8402a"/><rect x="-33.5" y="-6.5" width="67" height="13" rx="0" fill="#f2936f"/><text x="-30.2566" y="4.7" font-size="13.5" fill="#b43a22" textLength="60.5131" lengthAdjust="spacingAndGlyphs">ADORA3</text></g>
<g transform="translate(773.5,543)"><rect x="-30.5" y="-12" width="61" height="24" rx="5.5" fill="#22ac47"/><rect x="-25.5" y="-7" width="51" height="14" rx="0" fill="#80c873"/><text x="-24.1269" y="4.7" font-size="13.5" fill="#2a9038" textLength="48.2537" lengthAdjust="spacingAndGlyphs">GPR78</text></g>
<g transform="translate(789,571.5)"><rect x="-40" y="-14.5" width="80" height="29" rx="5.5" fill="#22ac47"/><rect x="-35" y="-9.5" width="70" height="19" rx="0" fill="#80c873"/></g>
<g transform="translate(809.5,597)"><rect x="-29.5" y="-12" width="59" height="24" rx="5.5" fill="#22ac47"/><rect x="-24.5" y="-7" width="49" height="14" rx="0" fill="#80c873"/><text x="-24" y="4.7" font-size="13.5" fill="#2a9038" textLength="48" lengthAdjust="spacingAndGlyphs">GPR62</text></g>
<g transform="translate(802.5,614)"><rect x="-30.5" y="-12" width="61" height="24" rx="5.5" fill="#22ac47"/><rect x="-25.5" y="-7" width="51" height="14" rx="0" fill="#80c873"/><text x="-24.1269" y="4.7" font-size="13.5" fill="#2a9038" textLength="48.2537" lengthAdjust="spacingAndGlyphs">GPR61</text></g>
<g transform="translate(770.5,627.5)"><rect x="-30.5" y="-12.5" width="61" height="25" rx="5.5" fill="#22ac47"/><rect x="-25.5" y="-7.5" width="51" height="15" rx="0" fill="#80c873"/><text x="-24.128" y="4.7" font-size="13.5" fill="#2a9038" textLength="48.256" lengthAdjust="spacingAndGlyphs">SREB1</text></g>
<g transform="translate(784,650)"><rect x="-30" y="-11" width="60" height="22" rx="5.5" fill="#22ac47"/><rect x="-25" y="-6" width="50" height="12" rx="0" fill="#80c873"/><text x="-24.128" y="4.7" font-size="13.5" fill="#2a9038" textLength="48.256" lengthAdjust="spacingAndGlyphs">SREB2</text></g>
<g transform="translate(810,659)"><rect x="-31" y="-12" width="62" height="24" rx="5.5" fill="#22ac47"/><rect x="-26" y="-7" width="52" height="14" rx="0" fill="#80c873"/><text x="-24.1269" y="4.7" font-size="13.5" fill="#2a9038" textLength="48.2537" lengthAdjust="spacingAndGlyphs">GPR63</text></g>
<g transform="translate(186.5,535.5)"><rect x="-32.5" y="-12.5" width="65" height="25" rx="5.5" fill="#e8402a"/><rect x="-27.5" y="-7.5" width="55" height="15" rx="0" fill="#f2936f"/><text x="-26.9767" y="4.7" font-size="13.5" fill="#b43a22" textLength="53.9535" lengthAdjust="spacingAndGlyphs">GNRHR</text></g>
<g transform="translate(111,569)"><rect x="-35" y="-12" width="70" height="24" rx="5.5" fill="#e8402a"/><rect x="-30" y="-7" width="60" height="14" rx="0" fill="#f2936f"/><text x="-28.4896" y="4.7" font-size="13.5" fill="#b43a22" textLength="56.9792" lengthAdjust="spacingAndGlyphs">AVPR1A</text></g>
<g transform="translate(233.5,605)"><rect x="-32.5" y="-12" width="65" height="24" rx="5.5" fill="#e8402a"/><rect x="-27.5" y="-7" width="55" height="14" rx="0" fill="#f2936f"/><text x="-23.5819" y="4.7" font-size="13.5" fill="#b43a22" textLength="47.1639" lengthAdjust="spacingAndGlyphs">AVPR2</text></g>
<g transform="translate(157,618.5)"><rect x="-28" y="-12.5" width="56" height="25" rx="5.5" fill="#e8402a"/><rect x="-23" y="-7.5" width="46" height="15" rx="0" fill="#f2936f"/><text x="-20.4378" y="4.7" font-size="13.5" fill="#b43a22" textLength="40.8755" lengthAdjust="spacingAndGlyphs">OXTR</text></g>
<g transform="translate(368.5,618)"><rect x="-27.5" y="-12" width="55" height="24" rx="5.5" fill="#e8402a"/><rect x="-22.5" y="-7" width="45" height="14" rx="0" fill="#f2936f"/><text x="-20.0319" y="4.7" font-size="13.5" fill="#b43a22" textLength="40.0639" lengthAdjust="spacingAndGlyphs">CNR2</text></g>
<g transform="translate(402.5,633.5)"><rect x="-27.5" y="-12.5" width="55" height="25" rx="5.5" fill="#e8402a"/><rect x="-22.5" y="-7.5" width="45" height="15" rx="0" fill="#f2936f"/><text x="-20.0319" y="4.7" font-size="13.5" fill="#b43a22" textLength="40.0639" lengthAdjust="spacingAndGlyphs">CNR1</text></g>
<g transform="translate(328,649)"><rect x="-28" y="-12" width="56" height="24" rx="5.5" fill="#e8402a"/><rect x="-23" y="-7" width="46" height="14" rx="0" fill="#f2936f"/><text x="-20.0354" y="4.7" font-size="13.5" fill="#b43a22" textLength="40.0708" lengthAdjust="spacingAndGlyphs">EDG1</text></g>
<g transform="translate(279,681)"><rect x="-34" y="-12" width="68" height="24" rx="5.5" fill="#e8402a"/><rect x="-29" y="-7" width="58" height="14" rx="0" fill="#f2936f"/><text x="-25.7558" y="4.7" font-size="13.5" fill="#b43a22" textLength="51.5117" lengthAdjust="spacingAndGlyphs">EDNRA</text></g>
<g transform="translate(288.5,701.5)"><rect x="-34.5" y="-11.5" width="69" height="23" rx="5.5" fill="#e8402a"/><rect x="-29.5" y="-6.5" width="59" height="13" rx="0" fill="#f2936f"/><text x="-25.7558" y="4.7" font-size="13.5" fill="#b43a22" textLength="51.5117" lengthAdjust="spacingAndGlyphs">EDNRB</text></g>
<g transform="translate(542.5,651)"><rect x="-37.5" y="-12" width="75" height="24" rx="5.5" fill="#e8402a"/><rect x="-32.5" y="-7" width="65" height="14" rx="0" fill="#f2936f"/><text x="-30.2485" y="4.7" font-size="13.5" fill="#b43a22" textLength="60.497" lengthAdjust="spacingAndGlyphs">MTNR1B</text></g>
<g transform="translate(501.5,664)"><rect x="-38.5" y="-12" width="77" height="24" rx="5.5" fill="#e8402a"/><rect x="-33.5" y="-7" width="67" height="14" rx="0" fill="#f2936f"/><text x="-30.2485" y="4.7" font-size="13.5" fill="#b43a22" textLength="60.497" lengthAdjust="spacingAndGlyphs">MTNR1A</text></g>
<g transform="translate(642.5,643.5)"><rect x="-28.5" y="-12.5" width="57" height="25" rx="5.5" fill="#e8402a"/><rect x="-23.5" y="-7.5" width="47" height="15" rx="0" fill="#f2936f"/><text x="-20.0319" y="4.7" font-size="13.5" fill="#b43a22" textLength="40.0639" lengthAdjust="spacingAndGlyphs">HRH1</text></g>
<g transform="translate(701,636)"><rect x="-37" y="-12" width="74" height="24" rx="5.5" fill="#e8402a"/><rect x="-32" y="-7" width="64" height="14" rx="0" fill="#f2936f"/><text x="-29.4369" y="4.7" font-size="13.5" fill="#b43a22" textLength="58.8738" lengthAdjust="spacingAndGlyphs">PTGER4</text></g>
<g transform="translate(653.5,679)"><rect x="-28.5" y="-12" width="57" height="24" rx="5.5" fill="#e8402a"/><rect x="-23.5" y="-7" width="47" height="14" rx="0" fill="#f2936f"/><text x="-20.0319" y="4.7" font-size="13.5" fill="#b43a22" textLength="40.0639" lengthAdjust="spacingAndGlyphs">HRH2</text></g>
<g transform="translate(733,671)"><rect x="-33" y="-12" width="66" height="24" rx="5.5" fill="#e8402a"/><rect x="-28" y="-7" width="56" height="14" rx="0" fill="#f2936f"/><text x="-25.7513" y="4.7" font-size="13.5" fill="#b43a22" textLength="51.5025" lengthAdjust="spacingAndGlyphs">PTGDR</text></g>
<g transform="translate(846.5,683.5)"><rect x="-26.5" y="-11.5" width="53" height="23" rx="5.5" fill="#e8402a"/><rect x="-21.5" y="-6.5" width="43" height="13" rx="0" fill="#f2936f"/><text x="-13.8988" y="4.7" font-size="13.5" fill="#b43a22" textLength="27.7976" lengthAdjust="spacingAndGlyphs">F2R</text></g>
<g transform="translate(531,760.5)"><rect x="-28" y="-12.5" width="56" height="25" rx="5.5" fill="#e8402a"/><rect x="-23" y="-7.5" width="46" height="15" rx="0" fill="#f2936f"/><text x="-20.0319" y="4.7" font-size="13.5" fill="#b43a22" textLength="40.0639" lengthAdjust="spacingAndGlyphs">DRD5</text></g>
<g transform="translate(518.5,775.5)"><rect x="-27.5" y="-12.5" width="55" height="25" rx="5.5" fill="#e8402a"/><rect x="-22.5" y="-7.5" width="45" height="15" rx="0" fill="#f2936f"/><text x="-20.0319" y="4.7" font-size="13.5" fill="#b43a22" textLength="40.0639" lengthAdjust="spacingAndGlyphs">DRD1</text></g>
<g transform="translate(478.5,794.5)"><rect x="-32.5" y="-12.5" width="65" height="25" rx="5.5" fill="#e8402a"/><rect x="-27.5" y="-7.5" width="55" height="15" rx="0" fill="#f2936f"/><text x="-24.5338" y="4.7" font-size="13.5" fill="#b43a22" textLength="49.0676" lengthAdjust="spacingAndGlyphs">ADRB2</text></g>
<g transform="translate(406.5,817)"><rect x="-32.5" y="-12" width="65" height="24" rx="5.5" fill="#e8402a"/><rect x="-27.5" y="-7" width="55" height="14" rx="0" fill="#f2936f"/><text x="-24.5338" y="4.7" font-size="13.5" fill="#b43a22" textLength="49.0676" lengthAdjust="spacingAndGlyphs">ADRB1</text></g>
<g transform="translate(405,836.5)"><rect x="-33" y="-10.5" width="66" height="21" rx="5.5" fill="#e8402a"/><rect x="-28" y="-5.5" width="56" height="11" rx="0" fill="#f2936f"/><text x="-24.5258" y="4.7" font-size="13.5" fill="#b43a22" textLength="49.0515" lengthAdjust="spacingAndGlyphs">HTR2C</text></g>
<g transform="translate(493,829)"><rect x="-30" y="-13" width="60" height="26" rx="5.5" fill="#e8402a"/><rect x="-25" y="-8" width="50" height="16" rx="0" fill="#f2936f"/><text x="-24.12" y="4.7" font-size="13.5" fill="#b43a22" textLength="48.2399" lengthAdjust="spacingAndGlyphs">HTR2B</text></g>
<g transform="translate(394,858.5)"><rect x="-38" y="-12.5" width="76" height="25" rx="5.5" fill="#e8402a"/><rect x="-33" y="-7.5" width="66" height="15" rx="0" fill="#f2936f"/><text x="-29.8473" y="4.7" font-size="13.5" fill="#b43a22" textLength="59.6946" lengthAdjust="spacingAndGlyphs">ADRA1D</text></g>
<g transform="translate(406,878)"><rect x="-38" y="-12" width="76" height="24" rx="5.5" fill="#e8402a"/><rect x="-33" y="-7" width="66" height="14" rx="0" fill="#f2936f"/><text x="-29.4415" y="4.7" font-size="13.5" fill="#b43a22" textLength="58.883" lengthAdjust="spacingAndGlyphs">ADRA1B</text></g>
<g transform="translate(464.5,887)"><rect x="-38.5" y="-12" width="77" height="24" rx="5.5" fill="#e8402a"/><rect x="-33.5" y="-7" width="67" height="14" rx="0" fill="#f2936f"/><text x="-29.4415" y="4.7" font-size="13.5" fill="#b43a22" textLength="58.883" lengthAdjust="spacingAndGlyphs">ADRA1A</text></g>
<g transform="translate(533.5,883)"><rect x="-29.5" y="-12" width="59" height="24" rx="5.5" fill="#e8402a"/><rect x="-24.5" y="-7" width="49" height="14" rx="0" fill="#f2936f"/><text x="-24" y="4.7" font-size="13.5" fill="#b43a22" textLength="48" lengthAdjust="spacingAndGlyphs">HTR1A</text></g>
<g transform="translate(581.5,902.5)"><rect x="-35.5" y="-12.5" width="71" height="25" rx="5.5" fill="#e8402a"/><rect x="-30.5" y="-7.5" width="61" height="15" rx="0" fill="#f2936f"/><text x="-29.4415" y="4.7" font-size="13.5" fill="#b43a22" textLength="58.883" lengthAdjust="spacingAndGlyphs">ADRA2A</text></g>
<g transform="translate(456,949)"><rect x="-30" y="-12" width="60" height="24" rx="5.5" fill="#e8402a"/><rect x="-25" y="-7" width="50" height="14" rx="0" fill="#f2936f"/><text x="-24.5" y="4.7" font-size="13.5" fill="#b43a22" textLength="49" lengthAdjust="spacingAndGlyphs">HTR1D</text></g>
<g transform="translate(481,970)"><rect x="-29" y="-12" width="58" height="24" rx="5.5" fill="#e8402a"/><rect x="-24" y="-7" width="48" height="14" rx="0" fill="#f2936f"/><text x="-23.5" y="4.7" font-size="13.5" fill="#b43a22" textLength="47" lengthAdjust="spacingAndGlyphs">HTR1B</text></g>
<g transform="translate(535,949)"><rect x="-35" y="-12" width="70" height="24" rx="5.5" fill="#e8402a"/><rect x="-30" y="-7" width="60" height="14" rx="0" fill="#f2936f"/><text x="-29.5" y="4.7" font-size="13.5" fill="#b43a22" textLength="59" lengthAdjust="spacingAndGlyphs">ADRA2C</text></g>
<g transform="translate(550.5,968.5)"><rect x="-35.5" y="-12.5" width="71" height="25" rx="5.5" fill="#e8402a"/><rect x="-30.5" y="-7.5" width="61" height="15" rx="0" fill="#f2936f"/><text x="-29.4415" y="4.7" font-size="13.5" fill="#b43a22" textLength="58.883" lengthAdjust="spacingAndGlyphs">ADRA2B</text></g>
<g transform="translate(558.5,996)"><rect x="-35.5" y="-13" width="71" height="26" rx="5.5" fill="#e8402a"/><rect x="-30.5" y="-8" width="61" height="16" rx="0" fill="#f2936f"/><text x="-26.1605" y="4.7" font-size="13.5" fill="#b43a22" textLength="52.321" lengthAdjust="spacingAndGlyphs">CHRM4</text></g>
<g transform="translate(630.5,1002.5)"><rect x="-35.5" y="-12.5" width="71" height="25" rx="5.5" fill="#e8402a"/><rect x="-30.5" y="-7.5" width="61" height="15" rx="0" fill="#f2936f"/><text x="-26.1605" y="4.7" font-size="13.5" fill="#b43a22" textLength="52.321" lengthAdjust="spacingAndGlyphs">CHRM2</text></g>
<g transform="translate(659.5,922.5)"><rect x="-35.5" y="-12.5" width="71" height="25" rx="5.5" fill="#e8402a"/><rect x="-30.5" y="-7.5" width="61" height="15" rx="0" fill="#f2936f"/><text x="-26.1605" y="4.7" font-size="13.5" fill="#b43a22" textLength="52.321" lengthAdjust="spacingAndGlyphs">CHRM1</text></g>
<g transform="translate(676.5,949)"><rect x="-35.5" y="-12" width="71" height="24" rx="5.5" fill="#e8402a"/><rect x="-30.5" y="-7" width="61" height="14" rx="0" fill="#f2936f"/><text x="-26.1605" y="4.7" font-size="13.5" fill="#b43a22" textLength="52.321" lengthAdjust="spacingAndGlyphs">CHRM3</text></g>
<g transform="translate(689,840.5)"><rect x="-26" y="-12.5" width="52" height="25" rx="5.5" fill="#e8402a"/><rect x="-21" y="-7.5" width="42" height="15" rx="0" fill="#f2936f"/><text x="-20.0319" y="4.7" font-size="13.5" fill="#b43a22" textLength="40.0639" lengthAdjust="spacingAndGlyphs">DRD4</text></g>
<g transform="translate(705,869.5)"><rect x="-30" y="-12.5" width="60" height="25" rx="5.5" fill="#e8402a"/><rect x="-25" y="-7.5" width="50" height="15" rx="0" fill="#f2936f"/><text x="-20.0319" y="4.7" font-size="13.5" fill="#b43a22" textLength="40.0639" lengthAdjust="spacingAndGlyphs">DRD3</text></g>
<g transform="translate(688.5,902)"><rect x="-29.5" y="-13" width="59" height="26" rx="5.5" fill="#e8402a"/><rect x="-24.5" y="-8" width="49" height="16" rx="0" fill="#f2936f"/><text x="-20.0319" y="4.7" font-size="13.5" fill="#b43a22" textLength="40.0639" lengthAdjust="spacingAndGlyphs">DRD2</text></g>
<g transform="translate(527.5,721.5)"><rect x="-31.5" y="-12.5" width="63" height="25" rx="5.5" fill="#22ac47"/><rect x="-26.5" y="-7.5" width="53" height="15" rx="0" fill="#80c873"/><text x="-15.9405" y="4.7" font-size="13.5" fill="#2a9038" textLength="31.881" lengthAdjust="spacingAndGlyphs">RRH</text></g>
<g transform="translate(641,798.5)"><rect x="-31" y="-12.5" width="62" height="25" rx="5.5" fill="#22ac47"/><rect x="-26" y="-7.5" width="52" height="15" rx="0" fill="#80c873"/><text x="-24.1269" y="4.7" font-size="13.5" fill="#2a9038" textLength="48.2537" lengthAdjust="spacingAndGlyphs">GPR58</text></g>
<g transform="translate(595.5,810)"><rect x="-31.5" y="-12" width="63" height="24" rx="5.5" fill="#22ac47"/><rect x="-26.5" y="-7" width="53" height="14" rx="0" fill="#80c873"/><text x="-24.1269" y="4.7" font-size="13.5" fill="#2a9038" textLength="48.2537" lengthAdjust="spacingAndGlyphs">GPR57</text></g>
<g transform="translate(875,605) rotate(61)"><rect x="-27" y="-12" width="54" height="24" rx="5.5" fill="#22ac47"/><rect x="-22" y="-7" width="44" height="14" rx="0" fill="#80c873"/><text x="-16.3497" y="4.7" font-size="13.5" fill="#2a9038" textLength="32.6995" lengthAdjust="spacingAndGlyphs">RGR</text></g>
<g transform="translate(901.4,616.6) rotate(58)"><rect x="-33.5" y="-12" width="67" height="24" rx="5.5" fill="#22ac47"/><rect x="-28.5" y="-7" width="57" height="14" rx="0" fill="#80c873"/><text x="-28" y="4.7" font-size="13.5" fill="#2a9038" textLength="56" lengthAdjust="spacingAndGlyphs">GPR103</text></g>
<g transform="translate(966.6,549) rotate(12)"><rect x="-27.5" y="-11" width="55" height="22" rx="11" fill="#22ac47"/><rect x="-22.5" y="-6" width="45" height="12" rx="6" fill="#80c873"/><text x="-18.8065" y="4.7" font-size="13.5" fill="#2a9038" textLength="37.6129" lengthAdjust="spacingAndGlyphs">TRE2</text></g>
<g transform="translate(956.6,576.5) rotate(22)"><rect x="-33" y="-12" width="66" height="24" rx="11" fill="#22ac47"/><rect x="-28" y="-7" width="56" height="14" rx="6" fill="#80c873"/><text x="-24.1269" y="4.7" font-size="13.5" fill="#2a9038" textLength="48.2537" lengthAdjust="spacingAndGlyphs">GPR52</text></g>
<g transform="translate(998,579) rotate(25)"><rect x="-32.5" y="-12" width="65" height="24" rx="11" fill="#22ac47"/><rect x="-27.5" y="-7" width="55" height="14" rx="6" fill="#80c873"/><text x="-27" y="4.7" font-size="13.5" fill="#2a9038" textLength="54" lengthAdjust="spacingAndGlyphs">GPR101</text></g>
<g transform="translate(920,595) rotate(41)"><rect x="-31.5" y="-12" width="63" height="24" rx="11" fill="#22ac47"/><rect x="-26.5" y="-7" width="53" height="14" rx="6" fill="#80c873"/><text x="-24.1269" y="4.7" font-size="13.5" fill="#2a9038" textLength="48.2537" lengthAdjust="spacingAndGlyphs">GPR18</text></g>
<g transform="translate(705,694) rotate(56)"><rect x="-35" y="-12" width="70" height="24" rx="5.5" fill="#e8402a"/><rect x="-30" y="-7" width="60" height="14" rx="0" fill="#f2936f"/><text x="-29.4369" y="4.7" font-size="13.5" fill="#b43a22" textLength="58.8738" lengthAdjust="spacingAndGlyphs">PTGER1</text></g>
<g transform="translate(753,724) rotate(52)"><rect x="-35" y="-12" width="70" height="24" rx="5.5" fill="#e8402a"/><rect x="-30" y="-7" width="60" height="14" rx="0" fill="#f2936f"/><text x="-29.4369" y="4.7" font-size="13.5" fill="#b43a22" textLength="58.8738" lengthAdjust="spacingAndGlyphs">PTGER2</text></g>
<g transform="translate(696.6,753) rotate(64)"><rect x="-32" y="-12" width="64" height="24" rx="5.5" fill="#e8402a"/><rect x="-27" y="-7" width="54" height="14" rx="0" fill="#f2936f"/><text x="-24.9316" y="4.7" font-size="13.5" fill="#b43a22" textLength="49.8632" lengthAdjust="spacingAndGlyphs">PTGFR</text></g>
<g transform="translate(728.4,768) rotate(55)"><rect x="-34" y="-12" width="68" height="24" rx="5.5" fill="#e8402a"/><rect x="-29" y="-7" width="58" height="14" rx="0" fill="#f2936f"/><text x="-28.5" y="4.7" font-size="13.5" fill="#b43a22" textLength="57" lengthAdjust="spacingAndGlyphs">PTGER3</text></g>
<g transform="translate(832,733) rotate(-48)"><rect x="-35" y="-12" width="70" height="24" rx="5.5" fill="#e8402a"/><rect x="-30" y="-7" width="60" height="14" rx="0" fill="#f2936f"/><text x="-22.0817" y="4.7" font-size="13.5" fill="#b43a22" textLength="44.1634" lengthAdjust="spacingAndGlyphs">F2RL2</text></g>
<g transform="translate(815.6,785.4) rotate(-48)"><rect x="-33" y="-12" width="66" height="24" rx="5.5" fill="#e8402a"/><rect x="-28" y="-7" width="56" height="14" rx="0" fill="#f2936f"/><text x="-27.2595" y="4.7" font-size="13.5" fill="#b43a22" textLength="54.5191" lengthAdjust="spacingAndGlyphs">CYSLT2</text></g>
<g transform="translate(840.7,785.4) rotate(-54)"><rect x="-33" y="-12" width="66" height="24" rx="5.5" fill="#e8402a"/><rect x="-28" y="-7" width="56" height="14" rx="0" fill="#f2936f"/><text x="-27.2595" y="4.7" font-size="13.5" fill="#b43a22" textLength="54.5191" lengthAdjust="spacingAndGlyphs">CYSLT1</text></g>
<g transform="translate(774,763) rotate(-38.5)"><rect x="-32" y="-12" width="64" height="24" rx="5.5" fill="#22ac47"/><rect x="-27" y="-7" width="54" height="14" rx="0" fill="#80c873"/><text x="-24.1269" y="4.7" font-size="13.5" fill="#2a9038" textLength="48.2537" lengthAdjust="spacingAndGlyphs">GPR87</text></g>
<g transform="translate(786.8,786.7) rotate(-47)"><rect x="-33" y="-12" width="66" height="24" rx="5.5" fill="#22ac47"/><rect x="-28" y="-7" width="56" height="14" rx="0" fill="#80c873"/><text x="-27.5" y="4.7" font-size="13.5" fill="#2a9038" textLength="55" lengthAdjust="spacingAndGlyphs">GPR106</text></g>
<g transform="translate(825.7,836.8) rotate(-47.6)"><rect x="-32" y="-12" width="64" height="24" rx="5.5" fill="#22ac47"/><rect x="-27" y="-7" width="54" height="14" rx="0" fill="#80c873"/><text x="-24.1269" y="4.7" font-size="13.5" fill="#2a9038" textLength="48.2537" lengthAdjust="spacingAndGlyphs">GPR65</text></g>
<g transform="translate(876.5,802) rotate(-65)"><rect x="-30" y="-12" width="60" height="24" rx="5.5" fill="#22ac47"/><rect x="-25" y="-7" width="50" height="14" rx="0" fill="#80c873"/><text x="-20.0354" y="4.7" font-size="13.5" fill="#2a9038" textLength="40.0708" lengthAdjust="spacingAndGlyphs">GPR4</text></g>
<g transform="translate(886.6,825.5) rotate(-64)"><rect x="-31" y="-12" width="62" height="24" rx="5.5" fill="#22ac47"/><rect x="-26" y="-7" width="52" height="14" rx="0" fill="#80c873"/><text x="-20.8505" y="4.7" font-size="13.5" fill="#2a9038" textLength="41.7009" lengthAdjust="spacingAndGlyphs">OGR1</text></g>
<g transform="translate(975,729) rotate(49)"><rect x="-31" y="-12" width="62" height="24" rx="5.5" fill="#22ac47"/><rect x="-26" y="-7" width="52" height="14" rx="0" fill="#80c873"/><text x="-24.1269" y="4.7" font-size="13.5" fill="#2a9038" textLength="48.2537" lengthAdjust="spacingAndGlyphs">GPR92</text></g>
<g transform="translate(1003.4,732.6) rotate(55)"><rect x="-31" y="-12" width="62" height="24" rx="5.5" fill="#22ac47"/><rect x="-26" y="-7" width="52" height="14" rx="0" fill="#80c873"/><text x="-24.1269" y="4.7" font-size="13.5" fill="#2a9038" textLength="48.2537" lengthAdjust="spacingAndGlyphs">GPR35</text></g>
<g transform="translate(1018.5,720.4) rotate(52.5)"><rect x="-30" y="-12" width="60" height="24" rx="5.5" fill="#22ac47"/><rect x="-25" y="-7" width="50" height="14" rx="0" fill="#80c873"/><text x="-24.1269" y="4.7" font-size="13.5" fill="#2a9038" textLength="48.2537" lengthAdjust="spacingAndGlyphs">GPR55</text></g>
<g transform="translate(953.4,755.3) rotate(50)"><rect x="-32.5" y="-12" width="65" height="24" rx="5.5" fill="#22ac47"/><rect x="-27.5" y="-7" width="55" height="14" rx="0" fill="#80c873"/><text x="-27" y="4.7" font-size="13.5" fill="#2a9038" textLength="54" lengthAdjust="spacingAndGlyphs">FKSG79</text></g>
<g transform="translate(950.6,817.5) rotate(70)"><rect x="-32" y="-12" width="64" height="24" rx="5.5" fill="#22ac47"/><rect x="-27" y="-7" width="54" height="14" rx="0" fill="#80c873"/><text x="-24.1269" y="4.7" font-size="13.5" fill="#2a9038" textLength="48.2537" lengthAdjust="spacingAndGlyphs">GPR80</text></g>
<g transform="translate(1030.8,693) rotate(12)"><rect x="-26" y="-12.25" width="52" height="24.5" rx="5.5" fill="#e8402a"/><rect x="-21" y="-7.25" width="42" height="14.5" rx="0" fill="#f2936f"/><text x="-19.625" y="4.7" font-size="13.5" fill="#b43a22" textLength="39.25" lengthAdjust="spacingAndGlyphs">HM74</text></g>
<g transform="translate(1067.5,745.5)"><rect x="-32.5" y="-12.5" width="65" height="25" rx="5.5" fill="#22ac47"/><rect x="-27.5" y="-7.5" width="55" height="15" rx="0" fill="#80c873"/><text x="-26.164" y="4.7" font-size="13.5" fill="#2a9038" textLength="52.3279" lengthAdjust="spacingAndGlyphs">MRGX4</text></g>
<g transform="translate(783.5,699)"><rect x="-29.5" y="-12" width="59" height="24" rx="5.5" fill="#e8402a"/><rect x="-24.5" y="-7" width="49" height="14" rx="0" fill="#f2936f"/><text x="-22.0897" y="4.7" font-size="13.5" fill="#b43a22" textLength="44.1795" lengthAdjust="spacingAndGlyphs">P2Y12</text></g>
<g transform="translate(848,701.5)"><rect x="-29" y="-11.5" width="58" height="23" rx="5.5" fill="#e8402a"/><rect x="-24" y="-6.5" width="48" height="13" rx="0" fill="#f2936f"/><text x="-22.0817" y="4.7" font-size="13.5" fill="#b43a22" textLength="44.1634" lengthAdjust="spacingAndGlyphs">F2RL1</text></g>
<rect x="975" y="638" width="21" height="8" fill="#4db848"/><rect x="772" y="563" width="38" height="14" fill="#4db848"/><rect x="783" y="652.5" width="31" height="12" fill="#4db848"/><rect x="890" y="351" width="22" height="13" fill="#4db848"/><text x="753.5" y="575.5" font-size="13.5" fill="#2f9a3c" font-family="Liberation Sans">G</text>
<text x="216" y="43.92" font-size="22" font-weight="bold" fill="#1a2342" textLength="145" lengthAdjust="spacingAndGlyphs">SECRETIN</text>
<text x="264" y="70.92" font-size="22" font-weight="bold" fill="#1a2342" textLength="49" lengthAdjust="spacingAndGlyphs">(15)</text>
<text x="39" y="115.92" font-size="22" font-weight="bold" fill="#1a2342" textLength="151" lengthAdjust="spacingAndGlyphs">ADHESION</text>
<text x="35" y="141.92" font-size="22" font-weight="bold" fill="#1a2342" textLength="46" lengthAdjust="spacingAndGlyphs">(24)</text>
<text x="640" y="20.92" font-size="22" font-weight="bold" fill="#1a2342" textLength="236" lengthAdjust="spacingAndGlyphs">GLUTAMATE (15)</text>
<text x="1013" y="92.92" font-size="22" font-weight="bold" fill="#1a2342" textLength="219" lengthAdjust="spacingAndGlyphs">FRIZZLED/TAS2</text>
<text x="1097" y="121.42" font-size="22" font-weight="bold" fill="#1a2342" textLength="51" lengthAdjust="spacingAndGlyphs">(24)</text>
<text x="703" y="980.92" font-size="22" font-weight="bold" fill="#2c4262" textLength="174" lengthAdjust="spacingAndGlyphs">RHODOPSIN</text>
<text x="756" y="1008.92" font-size="22" font-weight="bold" fill="#2c4262" textLength="67" lengthAdjust="spacingAndGlyphs">(701)</text>
<text x="981" y="498.76" font-size="16" font-weight="bold" fill="#111" textLength="52" lengthAdjust="spacingAndGlyphs">(388)</text>
<text x="693" y="466" text-anchor="middle" font-size="32" fill="#1f4b96" style="font-family:'Liberation Serif',serif">γ</text>
<text x="630" y="503" text-anchor="middle" font-size="32" fill="#1f4b96" style="font-family:'Liberation Serif',serif">β</text>
<text x="704" y="533" text-anchor="middle" font-size="32" fill="#1f4b96" style="font-family:'Liberation Serif',serif">δ</text>
<text x="625" y="553" text-anchor="middle" font-size="32" fill="#1f4b96" style="font-family:'Liberation Serif',serif">α</text>
<g transform="translate(1050,887.5)"><rect x="-31.5" y="-12.5" width="63" height="25" rx="7" fill="#e8402a"/><rect x="-26.5" y="-7.5" width="53" height="15" rx="2" fill="#f2936f"/></g>
<g transform="translate(1050,926.5)"><rect x="-31.5" y="-12.5" width="63" height="25" rx="7" fill="#22ac47"/><rect x="-26.5" y="-7.5" width="53" height="15" rx="2" fill="#80c873"/></g>
<text x="1089" y="895.1" font-size="20" fill="#111" textLength="63.6" lengthAdjust="spacingAndGlyphs">targets</text>
<text x="1162.2" y="895.1" font-size="20" fill="#111" textLength="18" lengthAdjust="spacingAndGlyphs">of</text>
<text x="1185.7" y="895.1" font-size="20" fill="#111" textLength="88.3" lengthAdjust="spacingAndGlyphs">approved</text>
<text x="1283.9" y="895.1" font-size="20" fill="#111" textLength="50.5" lengthAdjust="spacingAndGlyphs">drugs</text>
<text x="1088.5" y="932.1" font-size="20" fill="#111" textLength="63.4" lengthAdjust="spacingAndGlyphs">orphan</text>
<text x="1162.5" y="932.1" font-size="20" fill="#111" textLength="72" lengthAdjust="spacingAndGlyphs">GPCRs</text>
</svg></body></html>
